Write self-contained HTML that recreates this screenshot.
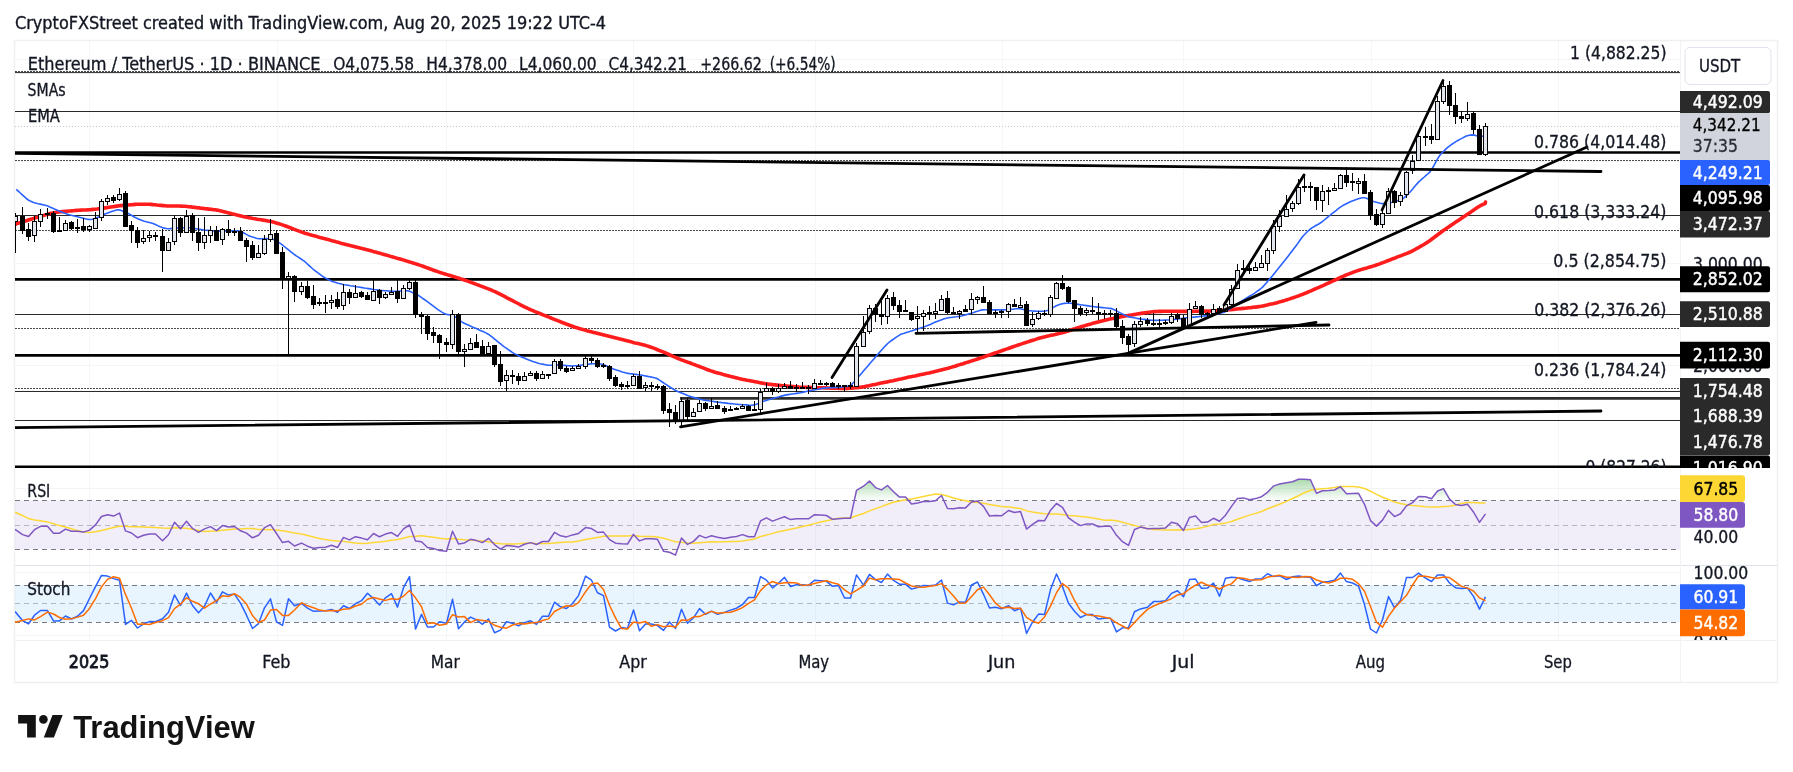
<!DOCTYPE html><html><head><meta charset="utf-8"><title>ETH/USDT chart</title><style>html,body{margin:0;padding:0;background:#fff;width:1793px;height:772px;overflow:hidden;position:relative}</style></head><body><svg width="1793" height="772" viewBox="0 0 1793 772" style="position:absolute;left:0;top:0;will-change:transform">
<defs>
<clipPath id="cm"><rect x="15" y="41" width="1665" height="427"/></clipPath>
<clipPath id="cr"><rect x="15" y="468" width="1665" height="97"/></clipPath>
<clipPath id="cs"><rect x="15" y="566" width="1665" height="74"/></clipPath>
<clipPath id="cax"><rect x="1680" y="41" width="97" height="427"/></clipPath>
<clipPath id="cst"><rect x="1680" y="566" width="97" height="74"/></clipPath>
<linearGradient id="gOB" gradientUnits="userSpaceOnUse" x1="0" y1="464" x2="0" y2="500.5"><stop offset="0" stop-color="#4caf50" stop-opacity="0.8"/><stop offset="1" stop-color="#4caf50" stop-opacity="0"/></linearGradient>
<linearGradient id="gOS" gradientUnits="userSpaceOnUse" x1="0" y1="549.1" x2="0" y2="585.5"><stop offset="0" stop-color="#f23645" stop-opacity="0"/><stop offset="1" stop-color="#f23645" stop-opacity="0.6"/></linearGradient>
</defs>
<text x="15" y="29" font-family="'DejaVu Sans Condensed','DejaVu Sans',sans-serif" font-size="17.4" fill="#131722" textLength="591" lengthAdjust="spacingAndGlyphs" stroke="#131722" stroke-width="0.35">CryptoFXStreet created with TradingView.com, Aug 20, 2025 19:22 UTC-4</text>
<rect x="14.5" y="40.5" width="1763" height="642" fill="#fff" stroke="#f0f0f0" stroke-width="1.5"/>
<line x1="89.5" y1="41" x2="89.5" y2="640" stroke="#f6f6f8" stroke-width="1"/>
<line x1="277.5" y1="41" x2="277.5" y2="640" stroke="#f6f6f8" stroke-width="1"/>
<line x1="446.5" y1="41" x2="446.5" y2="640" stroke="#f6f6f8" stroke-width="1"/>
<line x1="633.5" y1="41" x2="633.5" y2="640" stroke="#f6f6f8" stroke-width="1"/>
<line x1="815.5" y1="41" x2="815.5" y2="640" stroke="#f6f6f8" stroke-width="1"/>
<line x1="1002.5" y1="41" x2="1002.5" y2="640" stroke="#f6f6f8" stroke-width="1"/>
<line x1="1183.5" y1="41" x2="1183.5" y2="640" stroke="#f6f6f8" stroke-width="1"/>
<line x1="1371.5" y1="41" x2="1371.5" y2="640" stroke="#f6f6f8" stroke-width="1"/>
<line x1="1558.5" y1="41" x2="1558.5" y2="640" stroke="#f6f6f8" stroke-width="1"/>
<line x1="15" y1="59.5" x2="1680" y2="59.5" stroke="#f5f5f7" stroke-width="1"/>
<line x1="15" y1="161.5" x2="1680" y2="161.5" stroke="#f5f5f7" stroke-width="1"/>
<line x1="15" y1="263.5" x2="1680" y2="263.5" stroke="#f5f5f7" stroke-width="1"/>
<line x1="15" y1="365.5" x2="1680" y2="365.5" stroke="#f5f5f7" stroke-width="1"/>
<line x1="15" y1="565.5" x2="1777" y2="565.5" stroke="#e0e3eb" stroke-width="1"/>
<line x1="15" y1="640.5" x2="1777" y2="640.5" stroke="#f0f0f0" stroke-width="1"/>
<line x1="1680.5" y1="41" x2="1680.5" y2="682" stroke="#f3f3f3" stroke-width="1"/>
<line x1="15" y1="488.5" x2="1680" y2="488.5" stroke="#f3f4f7" stroke-width="1"/>
<line x1="15" y1="635.5" x2="1680" y2="635.5" stroke="#f3f4f7" stroke-width="1"/>
<line x1="15" y1="572.5" x2="1680" y2="572.5" stroke="#f3f4f7" stroke-width="1"/>
<g clip-path="url(#cm)">
<line x1="15" y1="71.5" x2="1680" y2="71.5" stroke="#4a4a4a" stroke-width="1" stroke-dasharray="2 1"/>
<line x1="15" y1="160.5" x2="1680" y2="160.5" stroke="#4a4a4a" stroke-width="1" stroke-dasharray="2 1"/>
<line x1="15" y1="230.5" x2="1680" y2="230.5" stroke="#4a4a4a" stroke-width="1" stroke-dasharray="2 1"/>
<line x1="15" y1="279.5" x2="1680" y2="279.5" stroke="#4a4a4a" stroke-width="1" stroke-dasharray="2 1"/>
<line x1="15" y1="328.5" x2="1680" y2="328.5" stroke="#4a4a4a" stroke-width="1" stroke-dasharray="2 1"/>
<line x1="15" y1="388.5" x2="1680" y2="388.5" stroke="#4a4a4a" stroke-width="1" stroke-dasharray="2 1"/>
<line x1="15" y1="72.6" x2="1680" y2="72.6" stroke="#2a2a2a" stroke-width="1"/>
<line x1="15" y1="126.5" x2="1680" y2="126.5" stroke="#c5c8d0" stroke-width="1" stroke-dasharray="1 2"/>
<line x1="15" y1="111.5" x2="1680" y2="111.5" stroke="#2a2a2a" stroke-width="1.1"/>
<line x1="15" y1="215.5" x2="1680" y2="215.5" stroke="#2a2a2a" stroke-width="1.1"/>
<line x1="15" y1="314.5" x2="1680" y2="314.5" stroke="#2a2a2a" stroke-width="1.1"/>
<line x1="15" y1="391.5" x2="1680" y2="391.5" stroke="#2a2a2a" stroke-width="1.1"/>
<line x1="15" y1="420.5" x2="1680" y2="420.5" stroke="#2a2a2a" stroke-width="1.1"/>
<line x1="15" y1="152.5" x2="1680" y2="152.5" stroke="#000" stroke-width="2.7"/>
<line x1="15" y1="279.3" x2="1680" y2="279.3" stroke="#000" stroke-width="2.7"/>
<line x1="15" y1="355.3" x2="1680" y2="355.3" stroke="#000" stroke-width="2.7"/>
<line x1="15" y1="466.8" x2="1680" y2="466.8" stroke="#000" stroke-width="2.7"/>
<line x1="680" y1="398.4" x2="1680" y2="398.4" stroke="#2e2e2e" stroke-width="2.6"/>
<path d="M15.0,224.6 L17.0,223.4 L19.0,222.9 L21.0,222.4 L23.0,221.8 L25.0,221.1 L27.0,220.5 L29.0,219.8 L31.0,219.2 L33.0,218.6 L35.0,218.0 L37.0,217.4 L39.0,216.8 L41.0,216.2 L43.0,215.6 L45.0,215.0 L47.0,214.4 L49.0,213.8 L51.0,213.3 L53.0,212.9 L55.0,212.5 L57.0,212.2 L59.0,212.0 L61.0,211.8 L63.0,211.6 L65.0,211.4 L67.0,211.2 L69.0,211.0 L71.0,210.9 L73.0,210.7 L75.0,210.5 L77.0,210.4 L79.0,210.3 L81.0,210.1 L83.0,210.0 L85.0,210.0 L87.0,209.9 L89.0,209.7 L91.0,209.6 L93.0,209.4 L95.0,209.2 L97.0,209.0 L99.0,208.7 L101.0,208.5 L103.0,208.2 L105.0,207.9 L107.0,207.6 L109.0,207.3 L111.0,207.0 L113.0,206.7 L115.0,206.4 L117.0,206.1 L119.0,205.8 L121.0,205.6 L123.0,205.4 L125.0,205.2 L127.0,205.0 L129.0,204.9 L131.0,204.7 L133.0,204.6 L135.0,204.4 L137.0,204.3 L139.0,204.2 L141.0,204.2 L143.0,204.2 L145.0,204.2 L147.0,204.3 L149.0,204.3 L151.0,204.4 L153.0,204.6 L155.0,204.7 L157.0,205.0 L159.0,205.2 L161.0,205.4 L163.0,205.6 L165.0,205.8 L167.0,206.0 L169.0,206.0 L171.0,206.0 L173.0,206.0 L175.0,206.0 L177.0,206.0 L179.0,206.0 L181.0,206.1 L183.0,206.2 L185.0,206.3 L187.0,206.5 L189.0,206.7 L191.0,206.9 L193.0,207.2 L195.0,207.4 L197.0,207.7 L199.0,207.9 L201.0,208.2 L203.0,208.4 L205.0,208.7 L207.0,208.9 L209.0,209.1 L211.0,209.3 L213.0,209.6 L215.0,209.8 L217.0,210.1 L219.0,210.5 L221.0,210.9 L223.0,211.4 L225.0,211.9 L227.0,212.5 L229.0,213.0 L231.0,213.5 L233.0,214.1 L235.0,214.6 L237.0,215.1 L239.0,215.5 L241.0,216.0 L243.0,216.5 L245.0,216.9 L247.0,217.3 L249.0,217.7 L251.0,218.1 L253.0,218.5 L255.0,218.8 L257.0,219.2 L259.0,219.5 L261.0,219.8 L263.0,220.1 L265.0,220.4 L267.0,220.8 L269.0,221.2 L271.0,221.6 L273.0,222.1 L275.0,222.6 L277.0,223.2 L279.0,223.8 L281.0,224.4 L283.0,225.1 L285.0,225.8 L287.0,226.5 L289.0,227.3 L291.0,228.0 L293.0,228.8 L295.0,229.6 L297.0,230.4 L299.0,231.1 L301.0,231.9 L303.0,232.5 L305.0,233.2 L307.0,233.8 L309.0,234.4 L311.0,235.0 L313.0,235.6 L315.0,236.1 L317.0,236.6 L319.0,237.2 L321.0,237.7 L323.0,238.2 L325.0,238.7 L327.0,239.3 L329.0,239.8 L331.0,240.4 L333.0,240.9 L335.0,241.5 L337.0,242.1 L339.0,242.6 L341.0,243.2 L343.0,243.7 L345.0,244.2 L347.0,244.7 L349.0,245.2 L351.0,245.7 L353.0,246.2 L355.0,246.7 L357.0,247.3 L359.0,247.8 L361.0,248.3 L363.0,248.8 L365.0,249.3 L367.0,249.8 L369.0,250.3 L371.0,250.8 L373.0,251.4 L375.0,251.9 L377.0,252.5 L379.0,253.1 L381.0,253.6 L383.0,254.2 L385.0,254.8 L387.0,255.3 L389.0,255.9 L391.0,256.5 L393.0,257.0 L395.0,257.6 L397.0,258.2 L399.0,258.7 L401.0,259.3 L403.0,259.9 L405.0,260.5 L407.0,261.1 L409.0,261.8 L411.0,262.4 L413.0,263.0 L415.0,263.6 L417.0,264.2 L419.0,264.9 L421.0,265.6 L423.0,266.3 L425.0,267.0 L427.0,267.8 L429.0,268.5 L431.0,269.2 L433.0,270.0 L435.0,270.7 L437.0,271.4 L439.0,272.1 L441.0,272.8 L443.0,273.4 L445.0,274.0 L447.0,274.6 L449.0,275.2 L451.0,275.8 L453.0,276.4 L455.0,277.0 L457.0,277.6 L459.0,278.2 L461.0,278.9 L463.0,279.5 L465.0,280.2 L467.0,280.9 L469.0,281.6 L471.0,282.4 L473.0,283.1 L475.0,283.8 L477.0,284.6 L479.0,285.3 L481.0,286.1 L483.0,286.8 L485.0,287.6 L487.0,288.4 L489.0,289.1 L491.0,289.9 L493.0,290.8 L495.0,291.6 L497.0,292.6 L499.0,293.6 L501.0,294.6 L503.0,295.7 L505.0,296.7 L507.0,297.8 L509.0,298.8 L511.0,299.9 L513.0,300.9 L515.0,302.0 L517.0,303.0 L519.0,304.0 L521.0,305.1 L523.0,306.1 L525.0,307.1 L527.0,308.0 L529.0,309.0 L531.0,309.9 L533.0,310.7 L535.0,311.6 L537.0,312.4 L539.0,313.2 L541.0,314.0 L543.0,314.8 L545.0,315.6 L547.0,316.4 L549.0,317.2 L551.0,318.0 L553.0,318.8 L555.0,319.6 L557.0,320.4 L559.0,321.2 L561.0,322.0 L563.0,322.8 L565.0,323.5 L567.0,324.3 L569.0,325.0 L571.0,325.8 L573.0,326.5 L575.0,327.2 L577.0,327.8 L579.0,328.5 L581.0,329.0 L583.0,329.6 L585.0,330.1 L587.0,330.7 L589.0,331.2 L591.0,331.7 L593.0,332.3 L595.0,332.8 L597.0,333.3 L599.0,333.8 L601.0,334.3 L603.0,334.8 L605.0,335.3 L607.0,335.8 L609.0,336.3 L611.0,336.8 L613.0,337.3 L615.0,337.8 L617.0,338.3 L619.0,338.8 L621.0,339.3 L623.0,339.8 L625.0,340.3 L627.0,340.8 L629.0,341.3 L631.0,341.8 L633.0,342.4 L635.0,342.9 L637.0,343.3 L639.0,343.8 L641.0,344.3 L643.0,344.8 L645.0,345.3 L647.0,345.9 L649.0,346.5 L651.0,347.2 L653.0,347.9 L655.0,348.7 L657.0,349.5 L659.0,350.3 L661.0,351.1 L663.0,351.9 L665.0,352.7 L667.0,353.6 L669.0,354.5 L671.0,355.4 L673.0,356.3 L675.0,357.1 L677.0,358.0 L679.0,358.9 L681.0,359.7 L683.0,360.4 L685.0,361.2 L687.0,361.9 L689.0,362.6 L691.0,363.3 L693.0,364.1 L695.0,364.8 L697.0,365.6 L699.0,366.3 L701.0,367.1 L703.0,367.9 L705.0,368.7 L707.0,369.5 L709.0,370.2 L711.0,370.9 L713.0,371.5 L715.0,372.2 L717.0,372.7 L719.0,373.3 L721.0,373.8 L723.0,374.4 L725.0,374.9 L727.0,375.5 L729.0,376.0 L731.0,376.6 L733.0,377.1 L735.0,377.6 L737.0,378.1 L739.0,378.6 L741.0,379.0 L743.0,379.4 L745.0,379.8 L747.0,380.2 L749.0,380.5 L751.0,380.9 L753.0,381.3 L755.0,381.7 L757.0,382.1 L759.0,382.5 L761.0,382.9 L763.0,383.2 L765.0,383.6 L767.0,383.9 L769.0,384.2 L771.0,384.4 L773.0,384.7 L775.0,384.9 L777.0,385.1 L779.0,385.3 L781.0,385.5 L783.0,385.7 L785.0,385.9 L787.0,386.1 L789.0,386.3 L791.0,386.4 L793.0,386.6 L795.0,386.8 L797.0,386.9 L799.0,387.1 L801.0,387.2 L803.0,387.3 L805.0,387.3 L807.0,387.4 L809.0,387.4 L811.0,387.5 L813.0,387.6 L815.0,387.6 L817.0,387.7 L819.0,387.7 L821.0,387.8 L823.0,387.8 L825.0,387.9 L827.0,388.0 L829.0,388.0 L831.0,388.1 L833.0,388.2 L835.0,388.2 L837.0,388.3 L839.0,388.4 L841.0,388.4 L843.0,388.4 L845.0,388.4 L847.0,388.4 L849.0,388.3 L851.0,388.2 L853.0,388.0 L855.0,387.8 L857.0,387.6 L859.0,387.4 L861.0,387.2 L863.0,386.9 L865.0,386.5 L867.0,386.1 L869.0,385.7 L871.0,385.2 L873.0,384.8 L875.0,384.4 L877.0,384.0 L879.0,383.5 L881.0,383.1 L883.0,382.7 L885.0,382.3 L887.0,381.9 L889.0,381.5 L891.0,381.1 L893.0,380.7 L895.0,380.2 L897.0,379.8 L899.0,379.3 L901.0,378.9 L903.0,378.4 L905.0,378.0 L907.0,377.5 L909.0,377.1 L911.0,376.7 L913.0,376.3 L915.0,375.9 L917.0,375.4 L919.0,375.0 L921.0,374.6 L923.0,374.2 L925.0,373.8 L927.0,373.3 L929.0,372.9 L931.0,372.4 L933.0,372.0 L935.0,371.5 L937.0,371.1 L939.0,370.6 L941.0,370.1 L943.0,369.6 L945.0,369.1 L947.0,368.6 L949.0,368.0 L951.0,367.4 L953.0,366.8 L955.0,366.2 L957.0,365.5 L959.0,364.9 L961.0,364.3 L963.0,363.7 L965.0,363.0 L967.0,362.4 L969.0,361.8 L971.0,361.1 L973.0,360.5 L975.0,359.9 L977.0,359.2 L979.0,358.5 L981.0,357.8 L983.0,357.2 L985.0,356.5 L987.0,355.8 L989.0,355.1 L991.0,354.4 L993.0,353.7 L995.0,353.0 L997.0,352.4 L999.0,351.7 L1001.0,351.0 L1003.0,350.3 L1005.0,349.6 L1007.0,348.9 L1009.0,348.2 L1011.0,347.5 L1013.0,346.8 L1015.0,346.1 L1017.0,345.4 L1019.0,344.7 L1021.0,344.1 L1023.0,343.4 L1025.0,342.8 L1027.0,342.1 L1029.0,341.5 L1031.0,340.8 L1033.0,340.2 L1035.0,339.6 L1037.0,338.9 L1039.0,338.3 L1041.0,337.7 L1043.0,337.2 L1045.0,336.7 L1047.0,336.2 L1049.0,335.8 L1051.0,335.3 L1053.0,334.9 L1055.0,334.5 L1057.0,334.0 L1059.0,333.6 L1061.0,333.1 L1063.0,332.6 L1065.0,332.0 L1067.0,331.4 L1069.0,330.7 L1071.0,330.0 L1073.0,329.3 L1075.0,328.7 L1077.0,328.0 L1079.0,327.4 L1081.0,326.8 L1083.0,326.2 L1085.0,325.6 L1087.0,325.0 L1089.0,324.4 L1091.0,323.9 L1093.0,323.3 L1095.0,322.8 L1097.0,322.2 L1099.0,321.7 L1101.0,321.2 L1103.0,320.7 L1105.0,320.2 L1107.0,319.7 L1109.0,319.2 L1111.0,318.8 L1113.0,318.4 L1115.0,317.9 L1117.0,317.5 L1119.0,317.2 L1121.0,316.8 L1123.0,316.5 L1125.0,316.1 L1127.0,315.7 L1129.0,315.4 L1131.0,315.1 L1133.0,314.7 L1135.0,314.4 L1137.0,314.0 L1139.0,313.7 L1141.0,313.4 L1143.0,313.1 L1145.0,312.8 L1147.0,312.5 L1149.0,312.2 L1151.0,312.0 L1153.0,311.8 L1155.0,311.6 L1157.0,311.5 L1159.0,311.4 L1161.0,311.4 L1163.0,311.3 L1165.0,311.3 L1167.0,311.3 L1169.0,311.3 L1171.0,311.3 L1173.0,311.3 L1175.0,311.3 L1177.0,311.3 L1179.0,311.4 L1181.0,311.4 L1183.0,311.4 L1185.0,311.4 L1187.0,311.4 L1189.0,311.4 L1191.0,311.4 L1193.0,311.4 L1195.0,311.3 L1197.0,311.3 L1199.0,311.2 L1201.0,311.2 L1203.0,311.2 L1205.0,311.1 L1207.0,311.1 L1209.0,311.1 L1211.0,311.0 L1213.0,310.9 L1215.0,310.8 L1217.0,310.7 L1219.0,310.6 L1221.0,310.4 L1223.0,310.3 L1225.0,310.1 L1227.0,309.9 L1229.0,309.8 L1231.0,309.6 L1233.0,309.4 L1235.0,309.2 L1237.0,309.0 L1239.0,308.8 L1241.0,308.6 L1243.0,308.4 L1245.0,308.2 L1247.0,308.0 L1249.0,307.8 L1251.0,307.6 L1253.0,307.3 L1255.0,307.1 L1257.0,306.9 L1259.0,306.6 L1261.0,306.3 L1263.0,305.9 L1265.0,305.5 L1267.0,305.1 L1269.0,304.6 L1271.0,304.1 L1273.0,303.7 L1275.0,303.2 L1277.0,302.7 L1279.0,302.1 L1281.0,301.6 L1283.0,301.0 L1285.0,300.4 L1287.0,299.7 L1289.0,299.1 L1291.0,298.4 L1293.0,297.8 L1295.0,297.1 L1297.0,296.4 L1299.0,295.7 L1301.0,294.9 L1303.0,294.2 L1305.0,293.3 L1307.0,292.5 L1309.0,291.6 L1311.0,290.8 L1313.0,289.9 L1315.0,289.0 L1317.0,288.2 L1319.0,287.3 L1321.0,286.4 L1323.0,285.6 L1325.0,284.7 L1327.0,283.7 L1329.0,282.8 L1331.0,281.9 L1333.0,280.9 L1335.0,280.0 L1337.0,279.1 L1339.0,278.1 L1341.0,277.2 L1343.0,276.4 L1345.0,275.5 L1347.0,274.7 L1349.0,273.9 L1351.0,273.1 L1353.0,272.3 L1355.0,271.6 L1357.0,270.9 L1359.0,270.2 L1361.0,269.6 L1363.0,269.0 L1365.0,268.4 L1367.0,267.9 L1369.0,267.3 L1371.0,266.7 L1373.0,266.1 L1375.0,265.5 L1377.0,264.8 L1379.0,264.1 L1381.0,263.3 L1383.0,262.6 L1385.0,261.8 L1387.0,261.0 L1389.0,260.3 L1391.0,259.5 L1393.0,258.7 L1395.0,258.0 L1397.0,257.2 L1399.0,256.4 L1401.0,255.7 L1403.0,254.9 L1405.0,254.1 L1407.0,253.3 L1409.0,252.5 L1411.0,251.6 L1413.0,250.6 L1415.0,249.5 L1417.0,248.4 L1419.0,247.3 L1421.0,246.1 L1423.0,245.0 L1425.0,243.8 L1427.0,242.5 L1429.0,241.2 L1431.0,239.8 L1433.0,238.3 L1435.0,236.8 L1437.0,235.3 L1439.0,233.8 L1441.0,232.3 L1443.0,230.8 L1445.0,229.4 L1447.0,228.0 L1449.0,226.7 L1451.0,225.3 L1453.0,224.0 L1455.0,222.6 L1457.0,221.3 L1459.0,220.0 L1461.0,218.6 L1463.0,217.3 L1465.0,215.9 L1467.0,214.6 L1469.0,213.2 L1471.0,211.9 L1473.0,210.5 L1475.0,209.1 L1477.0,207.8 L1479.0,206.5 L1481.0,205.4 L1483.0,204.4 L1485.0,203.6 L1485.5,202.0" fill="none" stroke="#ff1c1c" stroke-width="3.6" stroke-linejoin="round" stroke-linecap="round"/>
<path d="M16.3,189.3 L18.3,191.2 L20.3,193.0 L22.3,194.8 L24.3,196.6 L26.3,198.5 L28.3,200.0 L30.3,201.1 L32.3,201.9 L34.3,202.7 L36.3,203.2 L38.3,203.7 L40.3,204.1 L42.3,204.6 L44.3,205.0 L46.3,205.6 L48.3,206.3 L50.3,207.2 L52.3,208.1 L54.3,209.0 L56.3,209.8 L58.3,210.7 L60.3,211.5 L62.3,212.2 L64.3,213.0 L66.3,213.7 L68.3,214.4 L70.3,215.0 L72.3,215.5 L74.3,216.0 L76.3,216.5 L78.3,217.0 L80.3,217.5 L82.3,218.0 L84.3,218.5 L86.3,219.0 L88.3,219.4 L90.3,219.5 L92.3,219.3 L94.3,218.8 L96.3,218.0 L98.3,217.0 L100.3,216.1 L102.3,215.1 L104.3,214.2 L106.3,213.4 L108.3,212.7 L110.3,212.0 L112.3,211.3 L114.3,210.7 L116.3,210.0 L118.3,209.7 L120.3,210.1 L122.3,210.9 L124.3,211.7 L126.3,212.5 L128.3,213.5 L130.3,214.6 L132.3,215.8 L134.3,217.0 L136.3,218.0 L138.3,218.9 L140.3,219.7 L142.3,220.5 L144.3,221.2 L146.3,221.8 L148.3,222.3 L150.3,222.8 L152.3,223.3 L154.3,224.0 L156.3,224.9 L158.3,225.9 L160.3,226.8 L162.3,227.6 L164.3,228.1 L166.3,228.5 L168.3,228.7 L170.3,228.6 L172.3,228.4 L174.3,228.2 L176.3,228.1 L178.3,228.0 L180.3,227.9 L182.3,227.8 L184.3,227.7 L186.3,227.7 L188.3,227.8 L190.3,228.0 L192.3,228.3 L194.3,228.5 L196.3,228.8 L198.3,229.1 L200.3,229.4 L202.3,229.7 L204.3,230.0 L206.3,230.2 L208.3,230.4 L210.3,230.6 L212.3,230.7 L214.3,230.9 L216.3,231.0 L218.3,231.1 L220.3,231.1 L222.3,231.1 L224.3,231.0 L226.3,231.0 L228.3,230.9 L230.3,230.9 L232.3,230.9 L234.3,230.9 L236.3,231.0 L238.3,231.1 L240.3,231.4 L242.3,232.2 L244.3,233.3 L246.3,234.4 L248.3,235.4 L250.3,236.2 L252.3,236.9 L254.3,237.6 L256.3,238.2 L258.3,238.6 L260.3,238.7 L262.3,238.7 L264.3,238.6 L266.3,238.6 L268.3,238.7 L270.3,238.8 L272.3,239.1 L274.3,239.8 L276.3,240.9 L278.3,242.1 L280.3,243.4 L282.3,244.9 L284.3,246.5 L286.3,248.1 L288.3,249.7 L290.3,251.3 L292.3,252.9 L294.3,254.5 L296.3,255.9 L298.3,257.2 L300.3,258.5 L302.3,259.8 L304.3,261.2 L306.3,263.0 L308.3,264.8 L310.3,266.7 L312.3,268.5 L314.3,270.2 L316.3,271.7 L318.3,273.2 L320.3,274.7 L322.3,276.2 L324.3,277.5 L326.3,278.5 L328.3,279.5 L330.3,280.5 L332.3,281.4 L334.3,282.1 L336.3,282.7 L338.3,283.3 L340.3,283.8 L342.3,284.3 L344.3,284.7 L346.3,285.0 L348.3,285.3 L350.3,285.7 L352.3,286.0 L354.3,286.3 L356.3,286.7 L358.3,287.0 L360.3,287.3 L362.3,287.6 L364.3,288.0 L366.3,288.3 L368.3,288.6 L370.3,288.9 L372.3,289.2 L374.3,289.5 L376.3,289.7 L378.3,290.0 L380.3,290.3 L382.3,290.5 L384.3,290.7 L386.3,290.8 L388.3,291.0 L390.3,291.1 L392.3,291.3 L394.3,291.3 L396.3,291.3 L398.3,291.2 L400.3,291.0 L402.3,290.9 L404.3,290.8 L406.3,290.7 L408.3,290.9 L410.3,291.6 L412.3,292.4 L414.3,293.2 L416.3,294.2 L418.3,295.3 L420.3,296.7 L422.3,298.1 L424.3,299.5 L426.3,300.9 L428.3,302.4 L430.3,303.9 L432.3,305.4 L434.3,306.9 L436.3,308.4 L438.3,309.8 L440.3,311.1 L442.3,312.4 L444.3,313.6 L446.3,314.3 L448.3,314.6 L450.3,314.8 L452.3,315.2 L454.3,316.1 L456.3,317.6 L458.3,319.2 L460.3,320.8 L462.3,322.2 L464.3,323.3 L466.3,324.2 L468.3,325.1 L470.3,326.0 L472.3,326.9 L474.3,327.8 L476.3,328.6 L478.3,329.5 L480.3,330.4 L482.3,331.2 L484.3,332.1 L486.3,333.1 L488.3,334.2 L490.3,335.7 L492.3,337.2 L494.3,338.8 L496.3,340.4 L498.3,342.1 L500.3,343.7 L502.3,345.3 L504.3,346.8 L506.3,348.2 L508.3,349.6 L510.3,351.0 L512.3,352.4 L514.3,353.6 L516.3,354.6 L518.3,355.5 L520.3,356.4 L522.3,357.2 L524.3,358.1 L526.3,358.9 L528.3,359.7 L530.3,360.4 L532.3,361.2 L534.3,361.9 L536.3,362.6 L538.3,363.2 L540.3,363.7 L542.3,364.1 L544.3,364.5 L546.3,364.9 L548.3,365.2 L550.3,365.2 L552.3,365.2 L554.3,365.1 L556.3,365.1 L558.3,365.1 L560.3,365.1 L562.3,365.2 L564.3,365.4 L566.3,365.6 L568.3,365.8 L570.3,365.9 L572.3,366.0 L574.3,365.8 L576.3,365.7 L578.3,365.5 L580.3,365.3 L582.3,365.0 L584.3,364.8 L586.3,364.5 L588.3,364.2 L590.3,363.9 L592.3,363.8 L594.3,363.8 L596.3,363.8 L598.3,363.9 L600.3,364.0 L602.3,364.2 L604.3,364.9 L606.3,365.8 L608.3,366.8 L610.3,367.7 L612.3,368.5 L614.3,369.3 L616.3,369.9 L618.3,370.6 L620.3,371.2 L622.3,371.9 L624.3,372.5 L626.3,373.1 L628.3,373.4 L630.3,373.7 L632.3,373.9 L634.3,374.2 L636.3,374.4 L638.3,374.7 L640.3,375.0 L642.3,375.3 L644.3,375.7 L646.3,376.1 L648.3,376.5 L650.3,376.9 L652.3,377.3 L654.3,377.7 L656.3,378.3 L658.3,379.3 L660.3,380.6 L662.3,382.0 L664.3,383.4 L666.3,384.7 L668.3,386.0 L670.3,387.3 L672.3,388.5 L674.3,389.8 L676.3,390.8 L678.3,391.7 L680.3,392.5 L682.3,393.3 L684.3,394.1 L686.3,394.9 L688.3,395.7 L690.3,396.4 L692.3,397.1 L694.3,397.6 L696.3,398.1 L698.3,398.7 L700.3,399.2 L702.3,399.7 L704.3,400.1 L706.3,400.4 L708.3,400.7 L710.3,401.0 L712.3,401.3 L714.3,401.6 L716.3,401.9 L718.3,402.2 L720.3,402.4 L722.3,402.7 L724.3,402.9 L726.3,403.1 L728.3,403.4 L730.3,403.6 L732.3,403.8 L734.3,404.0 L736.3,404.2 L738.3,404.4 L740.3,404.5 L742.3,404.7 L744.3,404.8 L746.3,404.9 L748.3,405.1 L750.3,405.2 L752.3,405.2 L754.3,404.9 L756.3,404.2 L758.3,403.4 L760.3,402.5 L762.3,401.8 L764.3,401.1 L766.3,400.4 L768.3,399.8 L770.3,399.2 L772.3,398.6 L774.3,398.0 L776.3,397.5 L778.3,397.0 L780.3,396.4 L782.3,395.9 L784.3,395.4 L786.3,394.9 L788.3,394.6 L790.3,394.3 L792.3,394.0 L794.3,393.7 L796.3,393.4 L798.3,393.1 L800.3,392.8 L802.3,392.4 L804.3,391.9 L806.3,391.5 L808.3,391.0 L810.3,390.6 L812.3,390.2 L814.3,389.9 L816.3,389.5 L818.3,389.2 L820.3,388.8 L822.3,388.4 L824.3,388.1 L826.3,387.9 L828.3,387.8 L830.3,387.7 L832.3,387.6 L834.3,387.5 L836.3,387.4 L838.3,387.3 L840.3,387.2 L842.3,387.0 L844.3,386.7 L846.3,386.4 L848.3,386.1 L850.3,385.4 L852.3,383.8 L854.3,381.7 L856.3,379.4 L858.3,377.1 L860.3,374.8 L862.3,372.5 L864.3,370.1 L866.3,367.8 L868.3,365.4 L870.3,363.1 L872.3,360.8 L874.3,358.4 L876.3,356.1 L878.3,353.7 L880.3,351.4 L882.3,349.2 L884.3,347.0 L886.3,344.9 L888.3,343.0 L890.3,341.4 L892.3,340.0 L894.3,338.6 L896.3,337.2 L898.3,335.9 L900.3,334.6 L902.3,333.8 L904.3,333.2 L906.3,332.5 L908.3,331.9 L910.3,331.3 L912.3,330.7 L914.3,330.0 L916.3,329.4 L918.3,328.7 L920.3,328.1 L922.3,327.4 L924.3,326.8 L926.3,326.1 L928.3,325.2 L930.3,324.4 L932.3,323.5 L934.3,322.6 L936.3,321.7 L938.3,320.9 L940.3,320.2 L942.3,319.5 L944.3,318.7 L946.3,318.2 L948.3,317.8 L950.3,317.5 L952.3,317.3 L954.3,317.0 L956.3,316.8 L958.3,316.5 L960.3,316.2 L962.3,315.8 L964.3,315.2 L966.3,314.7 L968.3,314.1 L970.3,313.5 L972.3,312.9 L974.3,312.3 L976.3,311.6 L978.3,311.0 L980.3,310.3 L982.3,309.9 L984.3,309.7 L986.3,309.8 L988.3,309.8 L990.3,309.8 L992.3,309.9 L994.3,309.9 L996.3,309.9 L998.3,309.9 L1000.3,309.9 L1002.3,309.9 L1004.3,309.9 L1006.3,309.8 L1008.3,309.6 L1010.3,309.4 L1012.3,309.2 L1014.3,309.0 L1016.3,308.8 L1018.3,308.7 L1020.3,308.8 L1022.3,309.2 L1024.3,309.7 L1026.3,310.1 L1028.3,310.6 L1030.3,310.8 L1032.3,311.0 L1034.3,311.1 L1036.3,311.2 L1038.3,311.3 L1040.3,311.3 L1042.3,311.2 L1044.3,311.1 L1046.3,310.8 L1048.3,310.2 L1050.3,309.2 L1052.3,308.1 L1054.3,306.9 L1056.3,305.8 L1058.3,305.0 L1060.3,304.3 L1062.3,303.7 L1064.3,303.4 L1066.3,303.2 L1068.3,303.1 L1070.3,303.2 L1072.3,303.4 L1074.3,303.8 L1076.3,304.1 L1078.3,304.4 L1080.3,304.7 L1082.3,305.0 L1084.3,305.3 L1086.3,305.6 L1088.3,305.9 L1090.3,306.2 L1092.3,306.4 L1094.3,306.7 L1096.3,306.9 L1098.3,307.2 L1100.3,307.4 L1102.3,307.6 L1104.3,307.8 L1106.3,308.0 L1108.3,308.2 L1110.3,308.4 L1112.3,308.9 L1114.3,309.7 L1116.3,310.8 L1118.3,311.9 L1120.3,312.9 L1122.3,313.9 L1124.3,314.9 L1126.3,315.8 L1128.3,316.6 L1130.3,317.1 L1132.3,317.4 L1134.3,317.8 L1136.3,318.2 L1138.3,318.6 L1140.3,318.9 L1142.3,319.2 L1144.3,319.4 L1146.3,319.6 L1148.3,319.9 L1150.3,320.1 L1152.3,320.3 L1154.3,320.4 L1156.3,320.4 L1158.3,320.3 L1160.3,320.3 L1162.3,320.2 L1164.3,320.1 L1166.3,320.0 L1168.3,320.0 L1170.3,319.8 L1172.3,319.6 L1174.3,319.4 L1176.3,319.1 L1178.3,318.9 L1180.3,318.6 L1182.3,318.4 L1184.3,318.1 L1186.3,317.9 L1188.3,317.7 L1190.3,317.5 L1192.3,317.3 L1194.3,317.1 L1196.3,316.9 L1198.3,316.7 L1200.3,316.4 L1202.3,316.2 L1204.3,315.9 L1206.3,315.6 L1208.3,315.3 L1210.3,315.0 L1212.3,314.7 L1214.3,314.4 L1216.3,314.0 L1218.3,313.6 L1220.3,313.2 L1222.3,312.8 L1224.3,312.2 L1226.3,311.1 L1228.3,309.8 L1230.3,308.5 L1232.3,307.2 L1234.3,305.8 L1236.3,304.5 L1238.3,303.2 L1240.3,301.9 L1242.3,300.6 L1244.3,299.4 L1246.3,298.2 L1248.3,297.0 L1250.3,295.8 L1252.3,294.6 L1254.3,293.3 L1256.3,291.9 L1258.3,290.5 L1260.3,289.0 L1262.3,287.4 L1264.3,285.2 L1266.3,282.9 L1268.3,280.6 L1270.3,278.3 L1272.3,275.9 L1274.3,273.4 L1276.3,270.9 L1278.3,268.5 L1280.3,266.0 L1282.3,263.5 L1284.3,261.0 L1286.3,258.4 L1288.3,255.9 L1290.3,253.3 L1292.3,250.7 L1294.3,248.1 L1296.3,245.4 L1298.3,242.6 L1300.3,239.8 L1302.3,237.1 L1304.3,234.8 L1306.3,232.8 L1308.3,230.8 L1310.3,229.0 L1312.3,227.6 L1314.3,226.5 L1316.3,225.3 L1318.3,224.2 L1320.3,223.0 L1322.3,221.6 L1324.3,220.0 L1326.3,218.3 L1328.3,216.6 L1330.3,215.0 L1332.3,213.4 L1334.3,211.8 L1336.3,210.3 L1338.3,208.7 L1340.3,207.2 L1342.3,205.9 L1344.3,204.8 L1346.3,203.8 L1348.3,202.8 L1350.3,201.8 L1352.3,200.9 L1354.3,200.2 L1356.3,199.5 L1358.3,198.8 L1360.3,198.2 L1362.3,197.8 L1364.3,197.8 L1366.3,198.2 L1368.3,199.0 L1370.3,200.0 L1372.3,201.0 L1374.3,201.8 L1376.3,202.3 L1378.3,202.8 L1380.3,203.3 L1382.3,203.6 L1384.3,203.6 L1386.3,203.3 L1388.3,202.9 L1390.3,202.6 L1392.3,202.2 L1394.3,201.6 L1396.3,201.1 L1398.3,200.5 L1400.3,199.9 L1402.3,199.1 L1404.3,197.6 L1406.3,195.7 L1408.3,193.8 L1410.3,191.7 L1412.3,189.4 L1414.3,187.0 L1416.3,184.6 L1418.3,182.4 L1420.3,180.5 L1422.3,178.7 L1424.3,177.0 L1426.3,175.2 L1428.3,173.5 L1430.3,171.4 L1432.3,168.4 L1434.3,164.8 L1436.3,161.1 L1438.3,157.6 L1440.3,154.8 L1442.3,152.5 L1444.3,150.6 L1446.3,148.6 L1448.3,146.8 L1450.3,145.3 L1452.3,144.0 L1454.3,142.7 L1456.3,141.4 L1458.3,140.2 L1460.3,139.1 L1462.3,138.1 L1464.3,137.0 L1466.3,136.1 L1468.3,135.5 L1470.3,135.1 L1472.3,134.9 L1474.3,135.1 L1476.3,135.8 L1478.3,136.4 L1480.3,136.4 L1482.3,136.2 L1484.3,136.0 L1486.0,135.8" fill="none" stroke="#2962ff" stroke-width="1.6" stroke-linejoin="round"/>
<g shape-rendering="crispEdges">
<rect x="15" y="213" width="1" height="40" fill="#000"/>
<rect x="13" y="216" width="5" height="6" fill="#000"/>
<rect x="14" y="217" width="3" height="4" fill="#e4e6ee"/>
<rect x="22" y="207" width="1" height="27" fill="#000"/>
<rect x="20" y="216" width="5" height="15" fill="#000"/>
<rect x="28" y="223" width="1" height="18" fill="#000"/>
<rect x="26" y="229" width="5" height="8" fill="#000"/>
<rect x="34" y="216" width="1" height="26" fill="#000"/>
<rect x="32" y="221" width="5" height="15" fill="#000"/>
<rect x="33" y="222" width="3" height="13" fill="#e4e6ee"/>
<rect x="40" y="209" width="1" height="18" fill="#000"/>
<rect x="38" y="214" width="5" height="8" fill="#000"/>
<rect x="39" y="215" width="3" height="6" fill="#e4e6ee"/>
<rect x="47" y="208" width="1" height="11" fill="#000"/>
<rect x="45" y="213" width="5" height="1.6" fill="#000"/>
<rect x="53" y="211" width="1" height="22" fill="#000"/>
<rect x="51" y="213" width="5" height="19" fill="#000"/>
<rect x="59" y="217" width="1" height="15" fill="#000"/>
<rect x="57" y="230" width="5" height="1.6" fill="#000"/>
<rect x="65" y="220" width="1" height="11" fill="#000"/>
<rect x="63" y="223" width="5" height="8" fill="#000"/>
<rect x="64" y="224" width="3" height="6" fill="#e4e6ee"/>
<rect x="71" y="221" width="1" height="9" fill="#000"/>
<rect x="69" y="222" width="5" height="7" fill="#000"/>
<rect x="77" y="219" width="1" height="14" fill="#000"/>
<rect x="75" y="227" width="5" height="1.6" fill="#000"/>
<rect x="83" y="218" width="1" height="14" fill="#000"/>
<rect x="81" y="226" width="5" height="4" fill="#000"/>
<rect x="89" y="225" width="1" height="7" fill="#000"/>
<rect x="87" y="226" width="5" height="4" fill="#000"/>
<rect x="88" y="227" width="3" height="2" fill="#e4e6ee"/>
<rect x="95" y="212" width="1" height="16" fill="#000"/>
<rect x="93" y="218" width="5" height="11" fill="#000"/>
<rect x="94" y="219" width="3" height="9" fill="#e4e6ee"/>
<rect x="101" y="199" width="1" height="22" fill="#000"/>
<rect x="99" y="201" width="5" height="17" fill="#000"/>
<rect x="100" y="202" width="3" height="15" fill="#e4e6ee"/>
<rect x="107" y="195" width="1" height="10" fill="#000"/>
<rect x="105" y="198" width="5" height="4" fill="#000"/>
<rect x="106" y="199" width="3" height="2" fill="#e4e6ee"/>
<rect x="113" y="195" width="1" height="8" fill="#000"/>
<rect x="111" y="197" width="5" height="4" fill="#000"/>
<rect x="119" y="188" width="1" height="13" fill="#000"/>
<rect x="117" y="194" width="5" height="6" fill="#000"/>
<rect x="118" y="195" width="3" height="4" fill="#e4e6ee"/>
<rect x="125" y="191" width="1" height="36" fill="#000"/>
<rect x="123" y="193" width="5" height="34" fill="#000"/>
<rect x="131" y="221" width="1" height="22" fill="#000"/>
<rect x="129" y="225" width="5" height="6" fill="#000"/>
<rect x="137" y="227" width="1" height="21" fill="#000"/>
<rect x="135" y="230" width="5" height="13" fill="#000"/>
<rect x="143" y="230" width="1" height="14" fill="#000"/>
<rect x="141" y="238" width="5" height="4" fill="#000"/>
<rect x="142" y="239" width="3" height="2" fill="#e4e6ee"/>
<rect x="149" y="231" width="1" height="11" fill="#000"/>
<rect x="147" y="235" width="5" height="3" fill="#000"/>
<rect x="148" y="236" width="3" height="1" fill="#e4e6ee"/>
<rect x="155" y="232" width="1" height="9" fill="#000"/>
<rect x="153" y="235" width="5" height="1.6" fill="#000"/>
<rect x="162" y="229" width="1" height="43" fill="#000"/>
<rect x="160" y="236" width="5" height="15" fill="#000"/>
<rect x="168" y="238" width="1" height="13" fill="#000"/>
<rect x="166" y="242" width="5" height="9" fill="#000"/>
<rect x="167" y="243" width="3" height="7" fill="#e4e6ee"/>
<rect x="174" y="215" width="1" height="30" fill="#000"/>
<rect x="172" y="218" width="5" height="24" fill="#000"/>
<rect x="173" y="219" width="3" height="22" fill="#e4e6ee"/>
<rect x="180" y="217" width="1" height="20" fill="#000"/>
<rect x="178" y="218" width="5" height="15" fill="#000"/>
<rect x="186" y="210" width="1" height="22" fill="#000"/>
<rect x="184" y="216" width="5" height="17" fill="#000"/>
<rect x="185" y="217" width="3" height="15" fill="#e4e6ee"/>
<rect x="192" y="213" width="1" height="28" fill="#000"/>
<rect x="190" y="215" width="5" height="18" fill="#000"/>
<rect x="198" y="218" width="1" height="33" fill="#000"/>
<rect x="196" y="232" width="5" height="11" fill="#000"/>
<rect x="204" y="217" width="1" height="32" fill="#000"/>
<rect x="202" y="235" width="5" height="8" fill="#000"/>
<rect x="203" y="236" width="3" height="6" fill="#e4e6ee"/>
<rect x="210" y="226" width="1" height="17" fill="#000"/>
<rect x="208" y="230" width="5" height="6" fill="#000"/>
<rect x="209" y="231" width="3" height="4" fill="#e4e6ee"/>
<rect x="216" y="226" width="1" height="15" fill="#000"/>
<rect x="214" y="230" width="5" height="11" fill="#000"/>
<rect x="222" y="228" width="1" height="17" fill="#000"/>
<rect x="220" y="229" width="5" height="11" fill="#000"/>
<rect x="221" y="230" width="3" height="9" fill="#e4e6ee"/>
<rect x="228" y="220" width="1" height="16" fill="#000"/>
<rect x="226" y="229" width="5" height="4" fill="#000"/>
<rect x="234" y="228" width="1" height="8" fill="#000"/>
<rect x="232" y="231" width="5" height="1.6" fill="#000"/>
<rect x="240" y="227" width="1" height="14" fill="#000"/>
<rect x="238" y="231" width="5" height="10" fill="#000"/>
<rect x="246" y="238" width="1" height="24" fill="#000"/>
<rect x="244" y="240" width="5" height="7" fill="#000"/>
<rect x="252" y="241" width="1" height="19" fill="#000"/>
<rect x="250" y="245" width="5" height="13" fill="#000"/>
<rect x="258" y="245" width="1" height="13" fill="#000"/>
<rect x="256" y="253" width="5" height="5" fill="#000"/>
<rect x="257" y="254" width="3" height="3" fill="#e4e6ee"/>
<rect x="264" y="235" width="1" height="20" fill="#000"/>
<rect x="262" y="239" width="5" height="15" fill="#000"/>
<rect x="263" y="240" width="3" height="13" fill="#e4e6ee"/>
<rect x="270" y="219" width="1" height="23" fill="#000"/>
<rect x="268" y="234" width="5" height="6" fill="#000"/>
<rect x="269" y="235" width="3" height="4" fill="#e4e6ee"/>
<rect x="276" y="230" width="1" height="23" fill="#000"/>
<rect x="274" y="233" width="5" height="21" fill="#000"/>
<rect x="282" y="247" width="1" height="42" fill="#000"/>
<rect x="280" y="252" width="5" height="27" fill="#000"/>
<rect x="288" y="272" width="1" height="82" fill="#000"/>
<rect x="286" y="276" width="5" height="3" fill="#000"/>
<rect x="287" y="277" width="3" height="1" fill="#e4e6ee"/>
<rect x="294" y="275" width="1" height="27" fill="#000"/>
<rect x="292" y="276" width="5" height="16" fill="#000"/>
<rect x="301" y="282" width="1" height="13" fill="#000"/>
<rect x="299" y="286" width="5" height="6" fill="#000"/>
<rect x="300" y="287" width="3" height="4" fill="#e4e6ee"/>
<rect x="307" y="281" width="1" height="18" fill="#000"/>
<rect x="305" y="286" width="5" height="12" fill="#000"/>
<rect x="313" y="285" width="1" height="24" fill="#000"/>
<rect x="311" y="296" width="5" height="9" fill="#000"/>
<rect x="319" y="298" width="1" height="8" fill="#000"/>
<rect x="317" y="302" width="5" height="1.6" fill="#000"/>
<rect x="325" y="295" width="1" height="18" fill="#000"/>
<rect x="323" y="302" width="5" height="1.6" fill="#000"/>
<rect x="331" y="295" width="1" height="14" fill="#000"/>
<rect x="329" y="300" width="5" height="3" fill="#000"/>
<rect x="330" y="301" width="3" height="1" fill="#e4e6ee"/>
<rect x="337" y="292" width="1" height="17" fill="#000"/>
<rect x="335" y="299" width="5" height="8" fill="#000"/>
<rect x="343" y="284" width="1" height="26" fill="#000"/>
<rect x="341" y="292" width="5" height="14" fill="#000"/>
<rect x="342" y="293" width="3" height="12" fill="#e4e6ee"/>
<rect x="349" y="289" width="1" height="15" fill="#000"/>
<rect x="347" y="292" width="5" height="6" fill="#000"/>
<rect x="355" y="285" width="1" height="13" fill="#000"/>
<rect x="353" y="293" width="5" height="5" fill="#000"/>
<rect x="354" y="294" width="3" height="3" fill="#e4e6ee"/>
<rect x="361" y="291" width="1" height="7" fill="#000"/>
<rect x="359" y="292" width="5" height="5" fill="#000"/>
<rect x="367" y="292" width="1" height="8" fill="#000"/>
<rect x="365" y="295" width="5" height="5" fill="#000"/>
<rect x="373" y="280" width="1" height="21" fill="#000"/>
<rect x="371" y="291" width="5" height="10" fill="#000"/>
<rect x="372" y="292" width="3" height="8" fill="#e4e6ee"/>
<rect x="379" y="289" width="1" height="15" fill="#000"/>
<rect x="377" y="290" width="5" height="8" fill="#000"/>
<rect x="385" y="292" width="1" height="7" fill="#000"/>
<rect x="383" y="294" width="5" height="4" fill="#000"/>
<rect x="384" y="295" width="3" height="2" fill="#e4e6ee"/>
<rect x="391" y="287" width="1" height="7" fill="#000"/>
<rect x="389" y="292" width="5" height="3" fill="#000"/>
<rect x="390" y="293" width="3" height="1" fill="#e4e6ee"/>
<rect x="397" y="280" width="1" height="23" fill="#000"/>
<rect x="395" y="291" width="5" height="8" fill="#000"/>
<rect x="403" y="285" width="1" height="13" fill="#000"/>
<rect x="401" y="288" width="5" height="11" fill="#000"/>
<rect x="402" y="289" width="3" height="9" fill="#e4e6ee"/>
<rect x="409" y="280" width="1" height="10" fill="#000"/>
<rect x="407" y="282" width="5" height="7" fill="#000"/>
<rect x="408" y="283" width="3" height="5" fill="#e4e6ee"/>
<rect x="415" y="280" width="1" height="38" fill="#000"/>
<rect x="413" y="282" width="5" height="33" fill="#000"/>
<rect x="421" y="312" width="1" height="22" fill="#000"/>
<rect x="419" y="314" width="5" height="3" fill="#000"/>
<rect x="427" y="315" width="1" height="25" fill="#000"/>
<rect x="425" y="316" width="5" height="18" fill="#000"/>
<rect x="433" y="327" width="1" height="16" fill="#000"/>
<rect x="431" y="332" width="5" height="4" fill="#000"/>
<rect x="439" y="334" width="1" height="25" fill="#000"/>
<rect x="437" y="335" width="5" height="8" fill="#000"/>
<rect x="446" y="338" width="1" height="14" fill="#000"/>
<rect x="444" y="342" width="5" height="3" fill="#000"/>
<rect x="452" y="310" width="1" height="39" fill="#000"/>
<rect x="450" y="314" width="5" height="31" fill="#000"/>
<rect x="451" y="315" width="3" height="29" fill="#e4e6ee"/>
<rect x="458" y="313" width="1" height="42" fill="#000"/>
<rect x="456" y="314" width="5" height="38" fill="#000"/>
<rect x="464" y="344" width="1" height="23" fill="#000"/>
<rect x="462" y="349" width="5" height="3" fill="#000"/>
<rect x="463" y="350" width="3" height="1" fill="#e4e6ee"/>
<rect x="470" y="338" width="1" height="11" fill="#000"/>
<rect x="468" y="343" width="5" height="7" fill="#000"/>
<rect x="469" y="344" width="3" height="5" fill="#e4e6ee"/>
<rect x="476" y="334" width="1" height="14" fill="#000"/>
<rect x="474" y="342" width="5" height="6" fill="#000"/>
<rect x="482" y="340" width="1" height="14" fill="#000"/>
<rect x="480" y="346" width="5" height="8" fill="#000"/>
<rect x="488" y="342" width="1" height="11" fill="#000"/>
<rect x="486" y="346" width="5" height="8" fill="#000"/>
<rect x="487" y="347" width="3" height="6" fill="#e4e6ee"/>
<rect x="494" y="345" width="1" height="22" fill="#000"/>
<rect x="492" y="345" width="5" height="20" fill="#000"/>
<rect x="500" y="351" width="1" height="35" fill="#000"/>
<rect x="498" y="364" width="5" height="18" fill="#000"/>
<rect x="506" y="370" width="1" height="21" fill="#000"/>
<rect x="504" y="375" width="5" height="6" fill="#000"/>
<rect x="505" y="376" width="3" height="4" fill="#e4e6ee"/>
<rect x="512" y="370" width="1" height="14" fill="#000"/>
<rect x="510" y="375" width="5" height="2" fill="#000"/>
<rect x="518" y="373" width="1" height="12" fill="#000"/>
<rect x="516" y="376" width="5" height="5" fill="#000"/>
<rect x="524" y="372" width="1" height="9" fill="#000"/>
<rect x="522" y="376" width="5" height="5" fill="#000"/>
<rect x="523" y="377" width="3" height="3" fill="#e4e6ee"/>
<rect x="530" y="371" width="1" height="5" fill="#000"/>
<rect x="528" y="373" width="5" height="3" fill="#000"/>
<rect x="529" y="374" width="3" height="1" fill="#e4e6ee"/>
<rect x="536" y="371" width="1" height="10" fill="#000"/>
<rect x="534" y="373" width="5" height="6" fill="#000"/>
<rect x="542" y="371" width="1" height="8" fill="#000"/>
<rect x="540" y="374" width="5" height="5" fill="#000"/>
<rect x="541" y="375" width="3" height="3" fill="#e4e6ee"/>
<rect x="548" y="374" width="1" height="5" fill="#000"/>
<rect x="546" y="374" width="5" height="1.6" fill="#000"/>
<rect x="554" y="359" width="1" height="15" fill="#000"/>
<rect x="552" y="361" width="5" height="13" fill="#000"/>
<rect x="553" y="362" width="3" height="11" fill="#e4e6ee"/>
<rect x="560" y="359" width="1" height="12" fill="#000"/>
<rect x="558" y="361" width="5" height="8" fill="#000"/>
<rect x="566" y="366" width="1" height="7" fill="#000"/>
<rect x="564" y="368" width="5" height="4" fill="#000"/>
<rect x="572" y="366" width="1" height="5" fill="#000"/>
<rect x="570" y="368" width="5" height="3" fill="#000"/>
<rect x="571" y="369" width="3" height="1" fill="#e4e6ee"/>
<rect x="578" y="364" width="1" height="5" fill="#000"/>
<rect x="576" y="366" width="5" height="3" fill="#000"/>
<rect x="577" y="367" width="3" height="1" fill="#e4e6ee"/>
<rect x="585" y="356" width="1" height="13" fill="#000"/>
<rect x="583" y="358" width="5" height="9" fill="#000"/>
<rect x="584" y="359" width="3" height="7" fill="#e4e6ee"/>
<rect x="591" y="356" width="1" height="7" fill="#000"/>
<rect x="589" y="358" width="5" height="3" fill="#000"/>
<rect x="597" y="358" width="1" height="10" fill="#000"/>
<rect x="595" y="360" width="5" height="7" fill="#000"/>
<rect x="603" y="363" width="1" height="5" fill="#000"/>
<rect x="601" y="365" width="5" height="1.6" fill="#000"/>
<rect x="609" y="365" width="1" height="16" fill="#000"/>
<rect x="607" y="366" width="5" height="13" fill="#000"/>
<rect x="615" y="375" width="1" height="12" fill="#000"/>
<rect x="613" y="377" width="5" height="9" fill="#000"/>
<rect x="621" y="382" width="1" height="8" fill="#000"/>
<rect x="619" y="384" width="5" height="3" fill="#000"/>
<rect x="627" y="381" width="1" height="8" fill="#000"/>
<rect x="625" y="385" width="5" height="2" fill="#000"/>
<rect x="633" y="374" width="1" height="12" fill="#000"/>
<rect x="631" y="376" width="5" height="10" fill="#000"/>
<rect x="632" y="377" width="3" height="8" fill="#e4e6ee"/>
<rect x="639" y="371" width="1" height="18" fill="#000"/>
<rect x="637" y="376" width="5" height="13" fill="#000"/>
<rect x="645" y="382" width="1" height="9" fill="#000"/>
<rect x="643" y="385" width="5" height="3" fill="#000"/>
<rect x="644" y="386" width="3" height="1" fill="#e4e6ee"/>
<rect x="651" y="382" width="1" height="9" fill="#000"/>
<rect x="649" y="385" width="5" height="1.6" fill="#000"/>
<rect x="657" y="384" width="1" height="6" fill="#000"/>
<rect x="655" y="386" width="5" height="1.6" fill="#000"/>
<rect x="663" y="385" width="1" height="29" fill="#000"/>
<rect x="661" y="386" width="5" height="25" fill="#000"/>
<rect x="669" y="403" width="1" height="24" fill="#000"/>
<rect x="667" y="409" width="5" height="4" fill="#000"/>
<rect x="675" y="405" width="1" height="19" fill="#000"/>
<rect x="673" y="412" width="5" height="9" fill="#000"/>
<rect x="681" y="398" width="1" height="29" fill="#000"/>
<rect x="679" y="401" width="5" height="20" fill="#000"/>
<rect x="680" y="402" width="3" height="18" fill="#e4e6ee"/>
<rect x="687" y="398" width="1" height="22" fill="#000"/>
<rect x="685" y="400" width="5" height="17" fill="#000"/>
<rect x="693" y="408" width="1" height="9" fill="#000"/>
<rect x="691" y="412" width="5" height="5" fill="#000"/>
<rect x="692" y="413" width="3" height="3" fill="#e4e6ee"/>
<rect x="699" y="400" width="1" height="12" fill="#000"/>
<rect x="697" y="403" width="5" height="9" fill="#000"/>
<rect x="698" y="404" width="3" height="7" fill="#e4e6ee"/>
<rect x="705" y="402" width="1" height="9" fill="#000"/>
<rect x="703" y="403" width="5" height="6" fill="#000"/>
<rect x="711" y="398" width="1" height="10" fill="#000"/>
<rect x="709" y="406" width="5" height="3" fill="#000"/>
<rect x="710" y="407" width="3" height="1" fill="#e4e6ee"/>
<rect x="717" y="401" width="1" height="8" fill="#000"/>
<rect x="715" y="405" width="5" height="4" fill="#000"/>
<rect x="724" y="406" width="1" height="8" fill="#000"/>
<rect x="722" y="408" width="5" height="4" fill="#000"/>
<rect x="730" y="406" width="1" height="5" fill="#000"/>
<rect x="728" y="409" width="5" height="1.6" fill="#000"/>
<rect x="736" y="407" width="1" height="3" fill="#000"/>
<rect x="734" y="408" width="5" height="1.6" fill="#000"/>
<rect x="742" y="404" width="1" height="5" fill="#000"/>
<rect x="740" y="406" width="5" height="3" fill="#000"/>
<rect x="741" y="407" width="3" height="1" fill="#e4e6ee"/>
<rect x="748" y="405" width="1" height="6" fill="#000"/>
<rect x="746" y="406" width="5" height="5" fill="#000"/>
<rect x="754" y="401" width="1" height="9" fill="#000"/>
<rect x="752" y="409" width="5" height="1.6" fill="#000"/>
<rect x="760" y="389" width="1" height="24" fill="#000"/>
<rect x="758" y="392" width="5" height="18" fill="#000"/>
<rect x="759" y="393" width="3" height="16" fill="#e4e6ee"/>
<rect x="766" y="383" width="1" height="9" fill="#000"/>
<rect x="764" y="388" width="5" height="4" fill="#000"/>
<rect x="765" y="389" width="3" height="2" fill="#e4e6ee"/>
<rect x="772" y="387" width="1" height="8" fill="#000"/>
<rect x="770" y="388" width="5" height="4" fill="#000"/>
<rect x="778" y="384" width="1" height="9" fill="#000"/>
<rect x="776" y="388" width="5" height="4" fill="#000"/>
<rect x="777" y="389" width="3" height="2" fill="#e4e6ee"/>
<rect x="784" y="383" width="1" height="5" fill="#000"/>
<rect x="782" y="386" width="5" height="3" fill="#000"/>
<rect x="783" y="387" width="3" height="1" fill="#e4e6ee"/>
<rect x="790" y="381" width="1" height="8" fill="#000"/>
<rect x="788" y="386" width="5" height="3" fill="#000"/>
<rect x="796" y="384" width="1" height="8" fill="#000"/>
<rect x="794" y="387" width="5" height="1.6" fill="#000"/>
<rect x="802" y="382" width="1" height="6" fill="#000"/>
<rect x="800" y="387" width="5" height="1.6" fill="#000"/>
<rect x="808" y="385" width="1" height="9" fill="#000"/>
<rect x="806" y="387" width="5" height="1.6" fill="#000"/>
<rect x="814" y="379" width="1" height="9" fill="#000"/>
<rect x="812" y="383" width="5" height="6" fill="#000"/>
<rect x="813" y="384" width="3" height="4" fill="#e4e6ee"/>
<rect x="820" y="380" width="1" height="5" fill="#000"/>
<rect x="818" y="383" width="5" height="1.6" fill="#000"/>
<rect x="826" y="382" width="1" height="4" fill="#000"/>
<rect x="824" y="383" width="5" height="1.6" fill="#000"/>
<rect x="832" y="382" width="1" height="5" fill="#000"/>
<rect x="830" y="383" width="5" height="4" fill="#000"/>
<rect x="838" y="383" width="1" height="6" fill="#000"/>
<rect x="836" y="385" width="5" height="1.6" fill="#000"/>
<rect x="844" y="385" width="1" height="7" fill="#000"/>
<rect x="842" y="385" width="5" height="1.6" fill="#000"/>
<rect x="850" y="382" width="1" height="7" fill="#000"/>
<rect x="848" y="385" width="5" height="1.6" fill="#000"/>
<rect x="856" y="343" width="1" height="44" fill="#000"/>
<rect x="854" y="346" width="5" height="41" fill="#000"/>
<rect x="855" y="347" width="3" height="39" fill="#e4e6ee"/>
<rect x="863" y="316" width="1" height="31" fill="#000"/>
<rect x="861" y="332" width="5" height="15" fill="#000"/>
<rect x="862" y="333" width="3" height="13" fill="#e4e6ee"/>
<rect x="869" y="305" width="1" height="29" fill="#000"/>
<rect x="867" y="308" width="5" height="24" fill="#000"/>
<rect x="868" y="309" width="3" height="22" fill="#e4e6ee"/>
<rect x="875" y="304" width="1" height="18" fill="#000"/>
<rect x="873" y="308" width="5" height="7" fill="#000"/>
<rect x="881" y="301" width="1" height="24" fill="#000"/>
<rect x="879" y="314" width="5" height="3" fill="#000"/>
<rect x="887" y="295" width="1" height="29" fill="#000"/>
<rect x="885" y="298" width="5" height="19" fill="#000"/>
<rect x="886" y="299" width="3" height="17" fill="#e4e6ee"/>
<rect x="893" y="292" width="1" height="18" fill="#000"/>
<rect x="891" y="297" width="5" height="9" fill="#000"/>
<rect x="899" y="300" width="1" height="18" fill="#000"/>
<rect x="897" y="305" width="5" height="7" fill="#000"/>
<rect x="905" y="300" width="1" height="11" fill="#000"/>
<rect x="903" y="310" width="5" height="1.6" fill="#000"/>
<rect x="911" y="312" width="1" height="9" fill="#000"/>
<rect x="909" y="312" width="5" height="8" fill="#000"/>
<rect x="917" y="306" width="1" height="26" fill="#000"/>
<rect x="915" y="316" width="5" height="3" fill="#000"/>
<rect x="916" y="317" width="3" height="1" fill="#e4e6ee"/>
<rect x="923" y="310" width="1" height="21" fill="#000"/>
<rect x="921" y="313" width="5" height="4" fill="#000"/>
<rect x="922" y="314" width="3" height="2" fill="#e4e6ee"/>
<rect x="929" y="306" width="1" height="14" fill="#000"/>
<rect x="927" y="312" width="5" height="1.6" fill="#000"/>
<rect x="935" y="303" width="1" height="16" fill="#000"/>
<rect x="933" y="311" width="5" height="3" fill="#000"/>
<rect x="934" y="312" width="3" height="1" fill="#e4e6ee"/>
<rect x="941" y="295" width="1" height="16" fill="#000"/>
<rect x="939" y="299" width="5" height="12" fill="#000"/>
<rect x="940" y="300" width="3" height="10" fill="#e4e6ee"/>
<rect x="947" y="291" width="1" height="23" fill="#000"/>
<rect x="945" y="298" width="5" height="15" fill="#000"/>
<rect x="953" y="307" width="1" height="7" fill="#000"/>
<rect x="951" y="312" width="5" height="1.6" fill="#000"/>
<rect x="959" y="310" width="1" height="9" fill="#000"/>
<rect x="957" y="311" width="5" height="3" fill="#000"/>
<rect x="958" y="312" width="3" height="1" fill="#e4e6ee"/>
<rect x="965" y="305" width="1" height="7" fill="#000"/>
<rect x="963" y="309" width="5" height="3" fill="#000"/>
<rect x="971" y="293" width="1" height="21" fill="#000"/>
<rect x="969" y="299" width="5" height="11" fill="#000"/>
<rect x="970" y="300" width="3" height="9" fill="#e4e6ee"/>
<rect x="977" y="296" width="1" height="8" fill="#000"/>
<rect x="975" y="297" width="5" height="3" fill="#000"/>
<rect x="976" y="298" width="3" height="1" fill="#e4e6ee"/>
<rect x="983" y="286" width="1" height="17" fill="#000"/>
<rect x="981" y="297" width="5" height="6" fill="#000"/>
<rect x="989" y="300" width="1" height="14" fill="#000"/>
<rect x="987" y="302" width="5" height="12" fill="#000"/>
<rect x="995" y="310" width="1" height="8" fill="#000"/>
<rect x="993" y="312" width="5" height="1.6" fill="#000"/>
<rect x="1001" y="310" width="1" height="8" fill="#000"/>
<rect x="999" y="311" width="5" height="2" fill="#000"/>
<rect x="1008" y="303" width="1" height="15" fill="#000"/>
<rect x="1006" y="304" width="5" height="8" fill="#000"/>
<rect x="1007" y="305" width="3" height="6" fill="#e4e6ee"/>
<rect x="1014" y="299" width="1" height="8" fill="#000"/>
<rect x="1012" y="304" width="5" height="3" fill="#000"/>
<rect x="1020" y="297" width="1" height="10" fill="#000"/>
<rect x="1018" y="305" width="5" height="3" fill="#000"/>
<rect x="1019" y="306" width="3" height="1" fill="#e4e6ee"/>
<rect x="1026" y="301" width="1" height="25" fill="#000"/>
<rect x="1024" y="304" width="5" height="22" fill="#000"/>
<rect x="1032" y="312" width="1" height="15" fill="#000"/>
<rect x="1030" y="319" width="5" height="6" fill="#000"/>
<rect x="1031" y="320" width="3" height="4" fill="#e4e6ee"/>
<rect x="1038" y="311" width="1" height="9" fill="#000"/>
<rect x="1036" y="313" width="5" height="6" fill="#000"/>
<rect x="1037" y="314" width="3" height="4" fill="#e4e6ee"/>
<rect x="1044" y="310" width="1" height="6" fill="#000"/>
<rect x="1042" y="313" width="5" height="1.6" fill="#000"/>
<rect x="1050" y="295" width="1" height="22" fill="#000"/>
<rect x="1048" y="297" width="5" height="18" fill="#000"/>
<rect x="1049" y="298" width="3" height="16" fill="#e4e6ee"/>
<rect x="1056" y="282" width="1" height="17" fill="#000"/>
<rect x="1054" y="283" width="5" height="16" fill="#000"/>
<rect x="1055" y="284" width="3" height="14" fill="#e4e6ee"/>
<rect x="1062" y="275" width="1" height="15" fill="#000"/>
<rect x="1060" y="283" width="5" height="6" fill="#000"/>
<rect x="1068" y="286" width="1" height="17" fill="#000"/>
<rect x="1066" y="287" width="5" height="15" fill="#000"/>
<rect x="1074" y="300" width="1" height="22" fill="#000"/>
<rect x="1072" y="300" width="5" height="9" fill="#000"/>
<rect x="1080" y="306" width="1" height="10" fill="#000"/>
<rect x="1078" y="308" width="5" height="6" fill="#000"/>
<rect x="1086" y="308" width="1" height="8" fill="#000"/>
<rect x="1084" y="310" width="5" height="3" fill="#000"/>
<rect x="1085" y="311" width="3" height="1" fill="#e4e6ee"/>
<rect x="1092" y="297" width="1" height="17" fill="#000"/>
<rect x="1090" y="310" width="5" height="1.6" fill="#000"/>
<rect x="1098" y="303" width="1" height="17" fill="#000"/>
<rect x="1096" y="312" width="5" height="3" fill="#000"/>
<rect x="1104" y="310" width="1" height="9" fill="#000"/>
<rect x="1102" y="313" width="5" height="1.6" fill="#000"/>
<rect x="1110" y="310" width="1" height="7" fill="#000"/>
<rect x="1108" y="313" width="5" height="1.6" fill="#000"/>
<rect x="1116" y="308" width="1" height="20" fill="#000"/>
<rect x="1114" y="313" width="5" height="14" fill="#000"/>
<rect x="1122" y="320" width="1" height="24" fill="#000"/>
<rect x="1120" y="326" width="5" height="12" fill="#000"/>
<rect x="1128" y="334" width="1" height="19" fill="#000"/>
<rect x="1126" y="336" width="5" height="9" fill="#000"/>
<rect x="1134" y="321" width="1" height="26" fill="#000"/>
<rect x="1132" y="324" width="5" height="20" fill="#000"/>
<rect x="1133" y="325" width="3" height="18" fill="#e4e6ee"/>
<rect x="1140" y="317" width="1" height="10" fill="#000"/>
<rect x="1138" y="321" width="5" height="4" fill="#000"/>
<rect x="1139" y="322" width="3" height="2" fill="#e4e6ee"/>
<rect x="1147" y="318" width="1" height="8" fill="#000"/>
<rect x="1145" y="320" width="5" height="4" fill="#000"/>
<rect x="1153" y="313" width="1" height="13" fill="#000"/>
<rect x="1151" y="323" width="5" height="1.6" fill="#000"/>
<rect x="1159" y="319" width="1" height="8" fill="#000"/>
<rect x="1157" y="323" width="5" height="1.6" fill="#000"/>
<rect x="1165" y="320" width="1" height="5" fill="#000"/>
<rect x="1163" y="322" width="5" height="1.6" fill="#000"/>
<rect x="1171" y="313" width="1" height="11" fill="#000"/>
<rect x="1169" y="316" width="5" height="7" fill="#000"/>
<rect x="1170" y="317" width="3" height="5" fill="#e4e6ee"/>
<rect x="1177" y="313" width="1" height="9" fill="#000"/>
<rect x="1175" y="314" width="5" height="5" fill="#000"/>
<rect x="1183" y="315" width="1" height="15" fill="#000"/>
<rect x="1181" y="318" width="5" height="9" fill="#000"/>
<rect x="1189" y="303" width="1" height="23" fill="#000"/>
<rect x="1187" y="309" width="5" height="17" fill="#000"/>
<rect x="1188" y="310" width="3" height="15" fill="#e4e6ee"/>
<rect x="1195" y="301" width="1" height="8" fill="#000"/>
<rect x="1193" y="306" width="5" height="3" fill="#000"/>
<rect x="1194" y="307" width="3" height="1" fill="#e4e6ee"/>
<rect x="1201" y="305" width="1" height="13" fill="#000"/>
<rect x="1199" y="306" width="5" height="9" fill="#000"/>
<rect x="1207" y="312" width="1" height="4" fill="#000"/>
<rect x="1205" y="313" width="5" height="1.6" fill="#000"/>
<rect x="1213" y="304" width="1" height="10" fill="#000"/>
<rect x="1211" y="309" width="5" height="5" fill="#000"/>
<rect x="1212" y="310" width="3" height="3" fill="#e4e6ee"/>
<rect x="1219" y="306" width="1" height="8" fill="#000"/>
<rect x="1217" y="308" width="5" height="5" fill="#000"/>
<rect x="1225" y="303" width="1" height="9" fill="#000"/>
<rect x="1223" y="304" width="5" height="8" fill="#000"/>
<rect x="1224" y="305" width="3" height="6" fill="#e4e6ee"/>
<rect x="1231" y="285" width="1" height="21" fill="#000"/>
<rect x="1229" y="289" width="5" height="16" fill="#000"/>
<rect x="1230" y="290" width="3" height="14" fill="#e4e6ee"/>
<rect x="1237" y="264" width="1" height="25" fill="#000"/>
<rect x="1235" y="270" width="5" height="19" fill="#000"/>
<rect x="1236" y="271" width="3" height="17" fill="#e4e6ee"/>
<rect x="1243" y="260" width="1" height="11" fill="#000"/>
<rect x="1241" y="268" width="5" height="1.6" fill="#000"/>
<rect x="1249" y="266" width="1" height="8" fill="#000"/>
<rect x="1247" y="268" width="5" height="3" fill="#000"/>
<rect x="1255" y="262" width="1" height="8" fill="#000"/>
<rect x="1253" y="267" width="5" height="4" fill="#000"/>
<rect x="1254" y="268" width="3" height="2" fill="#e4e6ee"/>
<rect x="1261" y="255" width="1" height="13" fill="#000"/>
<rect x="1259" y="263" width="5" height="5" fill="#000"/>
<rect x="1260" y="264" width="3" height="3" fill="#e4e6ee"/>
<rect x="1267" y="248" width="1" height="23" fill="#000"/>
<rect x="1265" y="250" width="5" height="14" fill="#000"/>
<rect x="1266" y="251" width="3" height="12" fill="#e4e6ee"/>
<rect x="1273" y="220" width="1" height="34" fill="#000"/>
<rect x="1271" y="226" width="5" height="25" fill="#000"/>
<rect x="1272" y="227" width="3" height="23" fill="#e4e6ee"/>
<rect x="1279" y="210" width="1" height="22" fill="#000"/>
<rect x="1277" y="216" width="5" height="11" fill="#000"/>
<rect x="1278" y="217" width="3" height="9" fill="#e4e6ee"/>
<rect x="1286" y="195" width="1" height="22" fill="#000"/>
<rect x="1284" y="209" width="5" height="8" fill="#000"/>
<rect x="1285" y="210" width="3" height="6" fill="#e4e6ee"/>
<rect x="1292" y="201" width="1" height="11" fill="#000"/>
<rect x="1290" y="203" width="5" height="6" fill="#000"/>
<rect x="1291" y="204" width="3" height="4" fill="#e4e6ee"/>
<rect x="1298" y="179" width="1" height="26" fill="#000"/>
<rect x="1296" y="187" width="5" height="17" fill="#000"/>
<rect x="1297" y="188" width="3" height="15" fill="#e4e6ee"/>
<rect x="1304" y="176" width="1" height="16" fill="#000"/>
<rect x="1302" y="186" width="5" height="1.6" fill="#000"/>
<rect x="1310" y="182" width="1" height="19" fill="#000"/>
<rect x="1308" y="186" width="5" height="1.6" fill="#000"/>
<rect x="1316" y="187" width="1" height="23" fill="#000"/>
<rect x="1314" y="187" width="5" height="14" fill="#000"/>
<rect x="1322" y="185" width="1" height="27" fill="#000"/>
<rect x="1320" y="191" width="5" height="10" fill="#000"/>
<rect x="1321" y="192" width="3" height="8" fill="#e4e6ee"/>
<rect x="1328" y="187" width="1" height="18" fill="#000"/>
<rect x="1326" y="190" width="5" height="1.6" fill="#000"/>
<rect x="1334" y="183" width="1" height="8" fill="#000"/>
<rect x="1332" y="188" width="5" height="3" fill="#000"/>
<rect x="1333" y="189" width="3" height="1" fill="#e4e6ee"/>
<rect x="1340" y="174" width="1" height="15" fill="#000"/>
<rect x="1338" y="175" width="5" height="14" fill="#000"/>
<rect x="1339" y="176" width="3" height="12" fill="#e4e6ee"/>
<rect x="1346" y="167" width="1" height="20" fill="#000"/>
<rect x="1344" y="175" width="5" height="8" fill="#000"/>
<rect x="1352" y="173" width="1" height="18" fill="#000"/>
<rect x="1350" y="181" width="5" height="1.6" fill="#000"/>
<rect x="1358" y="178" width="1" height="16" fill="#000"/>
<rect x="1356" y="181" width="5" height="3" fill="#000"/>
<rect x="1357" y="182" width="3" height="1" fill="#e4e6ee"/>
<rect x="1364" y="174" width="1" height="20" fill="#000"/>
<rect x="1362" y="181" width="5" height="13" fill="#000"/>
<rect x="1370" y="190" width="1" height="30" fill="#000"/>
<rect x="1368" y="192" width="5" height="24" fill="#000"/>
<rect x="1376" y="209" width="1" height="17" fill="#000"/>
<rect x="1374" y="214" width="5" height="11" fill="#000"/>
<rect x="1382" y="210" width="1" height="18" fill="#000"/>
<rect x="1380" y="213" width="5" height="12" fill="#000"/>
<rect x="1381" y="214" width="3" height="10" fill="#e4e6ee"/>
<rect x="1388" y="188" width="1" height="26" fill="#000"/>
<rect x="1386" y="191" width="5" height="23" fill="#000"/>
<rect x="1387" y="192" width="3" height="21" fill="#e4e6ee"/>
<rect x="1394" y="190" width="1" height="18" fill="#000"/>
<rect x="1392" y="191" width="5" height="12" fill="#000"/>
<rect x="1400" y="192" width="1" height="14" fill="#000"/>
<rect x="1398" y="195" width="5" height="7" fill="#000"/>
<rect x="1399" y="196" width="3" height="5" fill="#e4e6ee"/>
<rect x="1406" y="171" width="1" height="27" fill="#000"/>
<rect x="1404" y="172" width="5" height="23" fill="#000"/>
<rect x="1405" y="173" width="3" height="21" fill="#e4e6ee"/>
<rect x="1412" y="155" width="1" height="19" fill="#000"/>
<rect x="1410" y="161" width="5" height="10" fill="#000"/>
<rect x="1411" y="162" width="3" height="8" fill="#e4e6ee"/>
<rect x="1418" y="134" width="1" height="26" fill="#000"/>
<rect x="1416" y="136" width="5" height="25" fill="#000"/>
<rect x="1417" y="137" width="3" height="23" fill="#e4e6ee"/>
<rect x="1425" y="127" width="1" height="19" fill="#000"/>
<rect x="1423" y="136" width="5" height="1.6" fill="#000"/>
<rect x="1431" y="124" width="1" height="20" fill="#000"/>
<rect x="1429" y="136" width="5" height="4" fill="#000"/>
<rect x="1437" y="96" width="1" height="44" fill="#000"/>
<rect x="1435" y="101" width="5" height="39" fill="#000"/>
<rect x="1436" y="102" width="3" height="37" fill="#e4e6ee"/>
<rect x="1443" y="80" width="1" height="24" fill="#000"/>
<rect x="1441" y="86" width="5" height="16" fill="#000"/>
<rect x="1442" y="87" width="3" height="14" fill="#e4e6ee"/>
<rect x="1449" y="81" width="1" height="34" fill="#000"/>
<rect x="1447" y="85" width="5" height="21" fill="#000"/>
<rect x="1455" y="93" width="1" height="31" fill="#000"/>
<rect x="1453" y="105" width="5" height="12" fill="#000"/>
<rect x="1461" y="111" width="1" height="12" fill="#000"/>
<rect x="1459" y="116" width="5" height="3" fill="#000"/>
<rect x="1467" y="102" width="1" height="19" fill="#000"/>
<rect x="1465" y="114" width="5" height="5" fill="#000"/>
<rect x="1466" y="115" width="3" height="3" fill="#e4e6ee"/>
<rect x="1473" y="111" width="1" height="23" fill="#000"/>
<rect x="1471" y="113" width="5" height="17" fill="#000"/>
<rect x="1479" y="125" width="1" height="30" fill="#000"/>
<rect x="1477" y="129" width="5" height="26" fill="#000"/>
<rect x="1485" y="123" width="1" height="33" fill="#000"/>
<rect x="1483" y="126" width="5" height="29" fill="#000"/>
<rect x="1484" y="127" width="3" height="27" fill="#e4e6ee"/>
</g>
<line x1="15" y1="153.3" x2="1601" y2="171.5" stroke="#000" stroke-width="2.8" stroke-linecap="round"/>
<line x1="15" y1="427.7" x2="1601" y2="411" stroke="#000" stroke-width="2.8" stroke-linecap="round"/>
<line x1="680.5" y1="426.8" x2="1128" y2="353.4" stroke="#000" stroke-width="2.8" stroke-linecap="round"/>
<line x1="1128" y1="353.4" x2="1587" y2="147" stroke="#000" stroke-width="2.8" stroke-linecap="round"/>
<line x1="1128" y1="353.4" x2="1316" y2="322.3" stroke="#000" stroke-width="2.8" stroke-linecap="round"/>
<line x1="916" y1="333.3" x2="1329" y2="325" stroke="#000" stroke-width="2.8" stroke-linecap="round"/>
<line x1="832" y1="377.5" x2="887" y2="290" stroke="#000" stroke-width="2.8" stroke-linecap="round"/>
<line x1="1224" y1="305" x2="1304" y2="175" stroke="#000" stroke-width="2.8" stroke-linecap="round"/>
<line x1="1382" y1="210" x2="1443" y2="80.5" stroke="#000" stroke-width="2.8" stroke-linecap="round"/>
<text x="1666.5" y="58.800000000000004" font-family="'DejaVu Sans Condensed','DejaVu Sans',sans-serif" font-size="16.9" fill="#131722" text-anchor="end" textLength="96.4" lengthAdjust="spacingAndGlyphs" stroke="#131722" stroke-width="0.3">1 (4,882.25)</text>
<text x="1666.5" y="147.7" font-family="'DejaVu Sans Condensed','DejaVu Sans',sans-serif" font-size="16.9" fill="#131722" text-anchor="end" textLength="132.6" lengthAdjust="spacingAndGlyphs" stroke="#131722" stroke-width="0.3">0.786 (4,014.48)</text>
<text x="1666.5" y="217.6" font-family="'DejaVu Sans Condensed','DejaVu Sans',sans-serif" font-size="16.9" fill="#131722" text-anchor="end" textLength="132.4" lengthAdjust="spacingAndGlyphs" stroke="#131722" stroke-width="0.3">0.618 (3,333.24)</text>
<text x="1666.5" y="266.59999999999997" font-family="'DejaVu Sans Condensed','DejaVu Sans',sans-serif" font-size="16.9" fill="#131722" text-anchor="end" textLength="113.2" lengthAdjust="spacingAndGlyphs" stroke="#131722" stroke-width="0.3">0.5 (2,854.75)</text>
<text x="1666.5" y="315.8" font-family="'DejaVu Sans Condensed','DejaVu Sans',sans-serif" font-size="16.9" fill="#131722" text-anchor="end" textLength="132.2" lengthAdjust="spacingAndGlyphs" stroke="#131722" stroke-width="0.3">0.382 (2,376.26)</text>
<text x="1666.5" y="375.9" font-family="'DejaVu Sans Condensed','DejaVu Sans',sans-serif" font-size="16.9" fill="#131722" text-anchor="end" textLength="132.4" lengthAdjust="spacingAndGlyphs" stroke="#131722" stroke-width="0.3">0.236 (1,784.24)</text>
<text x="1666.5" y="473.4" font-family="'DejaVu Sans Condensed','DejaVu Sans',sans-serif" font-size="16.9" fill="#131722" text-anchor="end" textLength="81" lengthAdjust="spacingAndGlyphs" stroke="#131722" stroke-width="0.3">0 (827.26)</text>
<text x="27.7" y="69.7" font-family="'DejaVu Sans Condensed','DejaVu Sans',sans-serif" font-size="17.2" fill="#131722" textLength="292.8" lengthAdjust="spacingAndGlyphs" stroke="#131722" stroke-width="0.3">Ethereum / TetherUS · 1D · BINANCE</text>
<text x="333.2" y="69.7" font-family="'DejaVu Sans Condensed','DejaVu Sans',sans-serif" font-size="17.2" fill="#131722" textLength="81" lengthAdjust="spacingAndGlyphs" stroke="#131722" stroke-width="0.3">O4,075.58</text>
<text x="426.3" y="69.7" font-family="'DejaVu Sans Condensed','DejaVu Sans',sans-serif" font-size="17.2" fill="#131722" textLength="80.8" lengthAdjust="spacingAndGlyphs" stroke="#131722" stroke-width="0.3">H4,378.00</text>
<text x="519.1" y="69.7" font-family="'DejaVu Sans Condensed','DejaVu Sans',sans-serif" font-size="17.2" fill="#131722" textLength="77.5" lengthAdjust="spacingAndGlyphs" stroke="#131722" stroke-width="0.3">L4,060.00</text>
<text x="608.6" y="69.7" font-family="'DejaVu Sans Condensed','DejaVu Sans',sans-serif" font-size="17.2" fill="#131722" textLength="78.4" lengthAdjust="spacingAndGlyphs" stroke="#131722" stroke-width="0.3">C4,342.21</text>
<text x="700.2" y="69.7" font-family="'DejaVu Sans Condensed','DejaVu Sans',sans-serif" font-size="17.2" fill="#131722" textLength="61.6" lengthAdjust="spacingAndGlyphs" stroke="#131722" stroke-width="0.3">+266.62</text>
<text x="769.7" y="69.7" font-family="'DejaVu Sans Condensed','DejaVu Sans',sans-serif" font-size="17.2" fill="#131722" textLength="66" lengthAdjust="spacingAndGlyphs" stroke="#131722" stroke-width="0.3">(+6.54%)</text>
<text x="27.6" y="95.8" font-family="'DejaVu Sans Condensed','DejaVu Sans',sans-serif" font-size="16.9" fill="#131722" textLength="38" lengthAdjust="spacingAndGlyphs" stroke="#131722" stroke-width="0.3">SMAs</text>
<text x="27.9" y="121.6" font-family="'DejaVu Sans Condensed','DejaVu Sans',sans-serif" font-size="16.9" fill="#131722" textLength="31.9" lengthAdjust="spacingAndGlyphs" stroke="#131722" stroke-width="0.3">EMA</text>
</g>
<g clip-path="url(#cr)">
<rect x="15" y="500.5" width="1665" height="48.6" fill="#7e57c2" fill-opacity="0.1"/>
<line x1="15" y1="500.5" x2="1680" y2="500.5" stroke="#787b86" stroke-opacity="1" stroke-width="1" stroke-dasharray="5 4"/>
<line x1="15" y1="525.5" x2="1680" y2="525.5" stroke="#787b86" stroke-opacity="0.5" stroke-width="1" stroke-dasharray="5 4"/>
<line x1="15" y1="549.5" x2="1680" y2="549.5" stroke="#787b86" stroke-opacity="1" stroke-width="1" stroke-dasharray="5 4"/>
<clipPath id="cob"><rect x="15" y="468" width="1665" height="32.5"/></clipPath>
<path d="M9.5,531.8 L15.5,529.6 L22.5,534.6 L28.5,536.5 L34.5,529.7 L40.5,526.3 L47.5,526.3 L53.5,533.2 L59.5,533.2 L65.5,529.1 L71.5,531.2 L77.5,531.2 L83.5,532.1 L89.5,530.1 L95.5,524.9 L101.5,516.5 L107.5,514.8 L113.5,516.1 L119.5,513.1 L125.5,530.9 L131.5,533.0 L137.5,537.7 L143.5,535.3 L149.5,533.9 L155.5,534.0 L162.5,540.7 L168.5,534.8 L174.5,522.2 L180.5,528.8 L186.5,521.2 L192.5,528.4 L198.5,532.3 L204.5,528.9 L210.5,526.6 L216.5,530.6 L222.5,525.6 L228.5,527.0 L234.5,526.5 L240.5,530.8 L246.5,533.1 L252.5,537.8 L258.5,535.3 L264.5,527.7 L270.5,524.7 L276.5,533.5 L282.5,542.6 L288.5,541.3 L294.5,546.0 L301.5,543.1 L307.5,546.2 L313.5,548.2 L319.5,547.5 L325.5,547.2 L331.5,545.3 L337.5,547.5 L343.5,537.4 L349.5,539.9 L355.5,536.7 L361.5,538.1 L367.5,539.8 L373.5,533.5 L379.5,536.8 L385.5,534.1 L391.5,532.6 L397.5,536.4 L403.5,528.9 L409.5,525.0 L415.5,540.9 L421.5,541.7 L427.5,547.5 L433.5,548.4 L439.5,550.6 L446.5,551.3 L452.5,531.2 L458.5,543.9 L464.5,542.9 L470.5,539.3 L476.5,540.6 L482.5,542.6 L488.5,538.3 L494.5,544.6 L500.5,549.1 L506.5,545.4 L512.5,546.0 L518.5,547.1 L524.5,544.2 L530.5,542.6 L536.5,544.5 L542.5,541.5 L548.5,541.5 L554.5,532.3 L560.5,535.8 L566.5,536.9 L572.5,534.9 L578.5,533.4 L585.5,527.6 L591.5,528.6 L597.5,532.4 L603.5,532.1 L609.5,539.6 L615.5,543.2 L621.5,543.7 L627.5,544.0 L633.5,534.4 L639.5,540.9 L645.5,538.8 L651.5,538.8 L657.5,539.3 L663.5,551.2 L669.5,552.3 L675.5,555.1 L681.5,537.9 L687.5,544.4 L693.5,541.4 L699.5,535.4 L705.5,537.9 L711.5,535.8 L717.5,537.3 L724.5,538.5 L730.5,537.2 L736.5,536.5 L742.5,534.6 L748.5,536.8 L754.5,536.8 L760.5,520.9 L766.5,517.8 L772.5,521.1 L778.5,518.9 L784.5,516.8 L790.5,519.6 L796.5,518.8 L802.5,518.8 L808.5,518.8 L814.5,514.7 L820.5,515.0 L826.5,515.5 L832.5,519.3 L838.5,518.7 L844.5,518.2 L850.5,518.2 L856.5,490.3 L863.5,486.2 L869.5,481.0 L875.5,487.6 L881.5,489.9 L887.5,485.5 L893.5,491.7 L899.5,497.1 L905.5,497.1 L911.5,504.0 L917.5,503.0 L923.5,501.5 L929.5,501.5 L935.5,500.8 L941.5,495.5 L947.5,508.5 L953.5,508.8 L959.5,507.7 L965.5,507.9 L971.5,502.0 L977.5,501.0 L983.5,506.4 L989.5,516.0 L995.5,515.6 L1001.5,515.8 L1008.5,510.5 L1014.5,512.5 L1020.5,511.4 L1026.5,529.1 L1032.5,524.4 L1038.5,520.5 L1044.5,520.8 L1050.5,510.3 L1056.5,503.5 L1062.5,507.3 L1068.5,517.8 L1074.5,522.2 L1080.5,525.6 L1086.5,524.0 L1092.5,524.0 L1098.5,526.7 L1104.5,526.2 L1110.5,526.2 L1116.5,535.3 L1122.5,541.7 L1128.5,545.4 L1134.5,529.5 L1140.5,527.1 L1147.5,528.7 L1153.5,528.5 L1159.5,528.5 L1165.5,527.9 L1171.5,522.3 L1177.5,523.8 L1183.5,530.4 L1189.5,517.5 L1195.5,516.1 L1201.5,522.4 L1207.5,522.1 L1213.5,518.3 L1219.5,521.2 L1225.5,515.2 L1231.5,506.4 L1237.5,498.4 L1243.5,497.9 L1249.5,499.8 L1255.5,498.6 L1261.5,496.7 L1267.5,492.3 L1273.5,486.1 L1279.5,483.9 L1286.5,482.7 L1292.5,481.7 L1298.5,479.3 L1304.5,479.2 L1310.5,479.7 L1316.5,493.2 L1322.5,490.8 L1328.5,490.6 L1334.5,490.0 L1340.5,486.7 L1346.5,493.7 L1352.5,493.5 L1358.5,493.3 L1364.5,504.3 L1370.5,520.6 L1376.5,526.1 L1382.5,520.1 L1388.5,510.4 L1394.5,516.6 L1400.5,513.7 L1406.5,505.9 L1412.5,502.6 L1418.5,496.5 L1425.5,496.8 L1431.5,498.8 L1437.5,491.0 L1443.5,488.6 L1449.5,499.1 L1455.5,504.5 L1461.5,505.4 L1467.5,504.3 L1473.5,512.0 L1479.5,522.4 L1485.5,513.9 L1485.5,500.5 L9.5,500.5Z" fill="url(#gOB)" clip-path="url(#cob)"/>
<clipPath id="cos"><rect x="15" y="549.1" width="1665" height="15.9"/></clipPath>
<path d="M9.5,531.8 L15.5,529.6 L22.5,534.6 L28.5,536.5 L34.5,529.7 L40.5,526.3 L47.5,526.3 L53.5,533.2 L59.5,533.2 L65.5,529.1 L71.5,531.2 L77.5,531.2 L83.5,532.1 L89.5,530.1 L95.5,524.9 L101.5,516.5 L107.5,514.8 L113.5,516.1 L119.5,513.1 L125.5,530.9 L131.5,533.0 L137.5,537.7 L143.5,535.3 L149.5,533.9 L155.5,534.0 L162.5,540.7 L168.5,534.8 L174.5,522.2 L180.5,528.8 L186.5,521.2 L192.5,528.4 L198.5,532.3 L204.5,528.9 L210.5,526.6 L216.5,530.6 L222.5,525.6 L228.5,527.0 L234.5,526.5 L240.5,530.8 L246.5,533.1 L252.5,537.8 L258.5,535.3 L264.5,527.7 L270.5,524.7 L276.5,533.5 L282.5,542.6 L288.5,541.3 L294.5,546.0 L301.5,543.1 L307.5,546.2 L313.5,548.2 L319.5,547.5 L325.5,547.2 L331.5,545.3 L337.5,547.5 L343.5,537.4 L349.5,539.9 L355.5,536.7 L361.5,538.1 L367.5,539.8 L373.5,533.5 L379.5,536.8 L385.5,534.1 L391.5,532.6 L397.5,536.4 L403.5,528.9 L409.5,525.0 L415.5,540.9 L421.5,541.7 L427.5,547.5 L433.5,548.4 L439.5,550.6 L446.5,551.3 L452.5,531.2 L458.5,543.9 L464.5,542.9 L470.5,539.3 L476.5,540.6 L482.5,542.6 L488.5,538.3 L494.5,544.6 L500.5,549.1 L506.5,545.4 L512.5,546.0 L518.5,547.1 L524.5,544.2 L530.5,542.6 L536.5,544.5 L542.5,541.5 L548.5,541.5 L554.5,532.3 L560.5,535.8 L566.5,536.9 L572.5,534.9 L578.5,533.4 L585.5,527.6 L591.5,528.6 L597.5,532.4 L603.5,532.1 L609.5,539.6 L615.5,543.2 L621.5,543.7 L627.5,544.0 L633.5,534.4 L639.5,540.9 L645.5,538.8 L651.5,538.8 L657.5,539.3 L663.5,551.2 L669.5,552.3 L675.5,555.1 L681.5,537.9 L687.5,544.4 L693.5,541.4 L699.5,535.4 L705.5,537.9 L711.5,535.8 L717.5,537.3 L724.5,538.5 L730.5,537.2 L736.5,536.5 L742.5,534.6 L748.5,536.8 L754.5,536.8 L760.5,520.9 L766.5,517.8 L772.5,521.1 L778.5,518.9 L784.5,516.8 L790.5,519.6 L796.5,518.8 L802.5,518.8 L808.5,518.8 L814.5,514.7 L820.5,515.0 L826.5,515.5 L832.5,519.3 L838.5,518.7 L844.5,518.2 L850.5,518.2 L856.5,490.3 L863.5,486.2 L869.5,481.0 L875.5,487.6 L881.5,489.9 L887.5,485.5 L893.5,491.7 L899.5,497.1 L905.5,497.1 L911.5,504.0 L917.5,503.0 L923.5,501.5 L929.5,501.5 L935.5,500.8 L941.5,495.5 L947.5,508.5 L953.5,508.8 L959.5,507.7 L965.5,507.9 L971.5,502.0 L977.5,501.0 L983.5,506.4 L989.5,516.0 L995.5,515.6 L1001.5,515.8 L1008.5,510.5 L1014.5,512.5 L1020.5,511.4 L1026.5,529.1 L1032.5,524.4 L1038.5,520.5 L1044.5,520.8 L1050.5,510.3 L1056.5,503.5 L1062.5,507.3 L1068.5,517.8 L1074.5,522.2 L1080.5,525.6 L1086.5,524.0 L1092.5,524.0 L1098.5,526.7 L1104.5,526.2 L1110.5,526.2 L1116.5,535.3 L1122.5,541.7 L1128.5,545.4 L1134.5,529.5 L1140.5,527.1 L1147.5,528.7 L1153.5,528.5 L1159.5,528.5 L1165.5,527.9 L1171.5,522.3 L1177.5,523.8 L1183.5,530.4 L1189.5,517.5 L1195.5,516.1 L1201.5,522.4 L1207.5,522.1 L1213.5,518.3 L1219.5,521.2 L1225.5,515.2 L1231.5,506.4 L1237.5,498.4 L1243.5,497.9 L1249.5,499.8 L1255.5,498.6 L1261.5,496.7 L1267.5,492.3 L1273.5,486.1 L1279.5,483.9 L1286.5,482.7 L1292.5,481.7 L1298.5,479.3 L1304.5,479.2 L1310.5,479.7 L1316.5,493.2 L1322.5,490.8 L1328.5,490.6 L1334.5,490.0 L1340.5,486.7 L1346.5,493.7 L1352.5,493.5 L1358.5,493.3 L1364.5,504.3 L1370.5,520.6 L1376.5,526.1 L1382.5,520.1 L1388.5,510.4 L1394.5,516.6 L1400.5,513.7 L1406.5,505.9 L1412.5,502.6 L1418.5,496.5 L1425.5,496.8 L1431.5,498.8 L1437.5,491.0 L1443.5,488.6 L1449.5,499.1 L1455.5,504.5 L1461.5,505.4 L1467.5,504.3 L1473.5,512.0 L1479.5,522.4 L1485.5,513.9 L1485.5,549.1 L9.5,549.1Z" fill="url(#gOS)" clip-path="url(#cos)"/>
<path d="M9.5,509.9 L15.5,512.5 L22.5,515.5 L28.5,518.6 L34.5,519.9 L40.5,520.7 L47.5,521.9 L53.5,523.7 L59.5,525.6 L65.5,527.0 L71.5,528.8 L77.5,530.6 L83.5,532.0 L89.5,532.4 L95.5,531.7 L101.5,530.6 L107.5,529.1 L113.5,527.5 L119.5,526.2 L125.5,526.3 L131.5,526.7 L137.5,526.8 L143.5,526.9 L149.5,527.2 L155.5,527.4 L162.5,528.1 L168.5,528.3 L174.5,527.7 L180.5,528.0 L186.5,528.3 L192.5,529.3 L198.5,530.5 L204.5,531.6 L210.5,531.3 L216.5,531.1 L222.5,530.2 L228.5,529.7 L234.5,529.1 L240.5,528.9 L246.5,528.4 L252.5,528.6 L258.5,529.5 L264.5,529.4 L270.5,529.7 L276.5,530.0 L282.5,530.8 L288.5,531.7 L294.5,533.0 L301.5,533.9 L307.5,535.4 L313.5,536.9 L319.5,538.4 L325.5,539.6 L331.5,540.5 L337.5,541.1 L343.5,541.3 L349.5,542.2 L355.5,543.0 L361.5,543.4 L367.5,543.2 L373.5,542.6 L379.5,542.0 L385.5,541.3 L391.5,540.3 L397.5,539.5 L403.5,538.2 L409.5,536.6 L415.5,536.3 L421.5,535.8 L427.5,536.6 L433.5,537.2 L439.5,538.2 L446.5,539.1 L452.5,538.5 L458.5,539.2 L464.5,539.7 L470.5,540.0 L476.5,540.6 L482.5,541.0 L488.5,541.7 L494.5,543.1 L500.5,543.7 L506.5,544.0 L512.5,543.9 L518.5,543.8 L524.5,543.3 L530.5,542.7 L536.5,543.7 L542.5,543.5 L548.5,543.4 L554.5,542.9 L560.5,542.5 L566.5,542.1 L572.5,541.9 L578.5,541.1 L585.5,539.6 L591.5,538.4 L597.5,537.4 L603.5,536.3 L609.5,536.0 L615.5,536.0 L621.5,536.0 L627.5,536.1 L633.5,535.6 L639.5,536.2 L645.5,536.5 L651.5,536.6 L657.5,536.9 L663.5,538.2 L669.5,539.9 L675.5,541.8 L681.5,542.2 L687.5,543.1 L693.5,543.2 L699.5,542.7 L705.5,542.3 L711.5,541.7 L717.5,541.9 L724.5,541.7 L730.5,541.6 L736.5,541.4 L742.5,541.1 L748.5,540.1 L754.5,539.0 L760.5,536.5 L766.5,535.1 L772.5,533.4 L778.5,531.8 L784.5,530.5 L790.5,529.2 L796.5,528.0 L802.5,526.6 L808.5,525.2 L814.5,523.6 L820.5,522.1 L826.5,520.7 L832.5,519.5 L838.5,518.2 L844.5,518.0 L850.5,518.0 L856.5,515.8 L863.5,513.5 L869.5,510.9 L875.5,508.6 L881.5,506.6 L887.5,504.2 L893.5,502.3 L899.5,501.0 L905.5,499.7 L911.5,498.9 L917.5,497.7 L923.5,496.5 L929.5,495.3 L935.5,494.1 L941.5,494.5 L947.5,496.0 L953.5,498.0 L959.5,499.5 L965.5,500.8 L971.5,502.0 L977.5,502.6 L983.5,503.3 L989.5,504.6 L995.5,505.5 L1001.5,506.4 L1008.5,507.0 L1014.5,507.8 L1020.5,508.5 L1026.5,510.9 L1032.5,512.1 L1038.5,512.9 L1044.5,513.8 L1050.5,514.0 L1056.5,514.1 L1062.5,514.6 L1068.5,515.4 L1074.5,515.8 L1080.5,516.5 L1086.5,517.1 L1092.5,518.1 L1098.5,519.1 L1104.5,520.2 L1110.5,520.0 L1116.5,520.7 L1122.5,522.3 L1128.5,524.0 L1134.5,525.4 L1140.5,527.1 L1147.5,528.6 L1153.5,529.4 L1159.5,529.8 L1165.5,530.0 L1171.5,529.9 L1177.5,529.8 L1183.5,530.1 L1189.5,529.5 L1195.5,528.8 L1201.5,527.8 L1207.5,526.4 L1213.5,524.5 L1219.5,523.9 L1225.5,523.1 L1231.5,521.5 L1237.5,519.3 L1243.5,517.1 L1249.5,515.1 L1255.5,513.4 L1261.5,511.5 L1267.5,508.8 L1273.5,506.5 L1279.5,504.2 L1286.5,501.4 L1292.5,498.5 L1298.5,495.7 L1304.5,492.7 L1310.5,490.2 L1316.5,489.2 L1322.5,488.7 L1328.5,488.2 L1334.5,487.5 L1340.5,486.6 L1346.5,486.4 L1352.5,486.5 L1358.5,487.0 L1364.5,488.5 L1370.5,491.2 L1376.5,494.4 L1382.5,497.3 L1388.5,499.5 L1394.5,502.1 L1400.5,503.6 L1406.5,504.7 L1412.5,505.5 L1418.5,506.0 L1425.5,506.7 L1431.5,507.1 L1437.5,506.9 L1443.5,506.6 L1449.5,506.2 L1455.5,505.0 L1461.5,503.6 L1467.5,502.4 L1473.5,502.5 L1479.5,503.0 L1485.5,503.0" fill="none" stroke="#fdd835" stroke-width="1.5"/>
<path d="M9.5,531.8 L15.5,529.6 L22.5,534.6 L28.5,536.5 L34.5,529.7 L40.5,526.3 L47.5,526.3 L53.5,533.2 L59.5,533.2 L65.5,529.1 L71.5,531.2 L77.5,531.2 L83.5,532.1 L89.5,530.1 L95.5,524.9 L101.5,516.5 L107.5,514.8 L113.5,516.1 L119.5,513.1 L125.5,530.9 L131.5,533.0 L137.5,537.7 L143.5,535.3 L149.5,533.9 L155.5,534.0 L162.5,540.7 L168.5,534.8 L174.5,522.2 L180.5,528.8 L186.5,521.2 L192.5,528.4 L198.5,532.3 L204.5,528.9 L210.5,526.6 L216.5,530.6 L222.5,525.6 L228.5,527.0 L234.5,526.5 L240.5,530.8 L246.5,533.1 L252.5,537.8 L258.5,535.3 L264.5,527.7 L270.5,524.7 L276.5,533.5 L282.5,542.6 L288.5,541.3 L294.5,546.0 L301.5,543.1 L307.5,546.2 L313.5,548.2 L319.5,547.5 L325.5,547.2 L331.5,545.3 L337.5,547.5 L343.5,537.4 L349.5,539.9 L355.5,536.7 L361.5,538.1 L367.5,539.8 L373.5,533.5 L379.5,536.8 L385.5,534.1 L391.5,532.6 L397.5,536.4 L403.5,528.9 L409.5,525.0 L415.5,540.9 L421.5,541.7 L427.5,547.5 L433.5,548.4 L439.5,550.6 L446.5,551.3 L452.5,531.2 L458.5,543.9 L464.5,542.9 L470.5,539.3 L476.5,540.6 L482.5,542.6 L488.5,538.3 L494.5,544.6 L500.5,549.1 L506.5,545.4 L512.5,546.0 L518.5,547.1 L524.5,544.2 L530.5,542.6 L536.5,544.5 L542.5,541.5 L548.5,541.5 L554.5,532.3 L560.5,535.8 L566.5,536.9 L572.5,534.9 L578.5,533.4 L585.5,527.6 L591.5,528.6 L597.5,532.4 L603.5,532.1 L609.5,539.6 L615.5,543.2 L621.5,543.7 L627.5,544.0 L633.5,534.4 L639.5,540.9 L645.5,538.8 L651.5,538.8 L657.5,539.3 L663.5,551.2 L669.5,552.3 L675.5,555.1 L681.5,537.9 L687.5,544.4 L693.5,541.4 L699.5,535.4 L705.5,537.9 L711.5,535.8 L717.5,537.3 L724.5,538.5 L730.5,537.2 L736.5,536.5 L742.5,534.6 L748.5,536.8 L754.5,536.8 L760.5,520.9 L766.5,517.8 L772.5,521.1 L778.5,518.9 L784.5,516.8 L790.5,519.6 L796.5,518.8 L802.5,518.8 L808.5,518.8 L814.5,514.7 L820.5,515.0 L826.5,515.5 L832.5,519.3 L838.5,518.7 L844.5,518.2 L850.5,518.2 L856.5,490.3 L863.5,486.2 L869.5,481.0 L875.5,487.6 L881.5,489.9 L887.5,485.5 L893.5,491.7 L899.5,497.1 L905.5,497.1 L911.5,504.0 L917.5,503.0 L923.5,501.5 L929.5,501.5 L935.5,500.8 L941.5,495.5 L947.5,508.5 L953.5,508.8 L959.5,507.7 L965.5,507.9 L971.5,502.0 L977.5,501.0 L983.5,506.4 L989.5,516.0 L995.5,515.6 L1001.5,515.8 L1008.5,510.5 L1014.5,512.5 L1020.5,511.4 L1026.5,529.1 L1032.5,524.4 L1038.5,520.5 L1044.5,520.8 L1050.5,510.3 L1056.5,503.5 L1062.5,507.3 L1068.5,517.8 L1074.5,522.2 L1080.5,525.6 L1086.5,524.0 L1092.5,524.0 L1098.5,526.7 L1104.5,526.2 L1110.5,526.2 L1116.5,535.3 L1122.5,541.7 L1128.5,545.4 L1134.5,529.5 L1140.5,527.1 L1147.5,528.7 L1153.5,528.5 L1159.5,528.5 L1165.5,527.9 L1171.5,522.3 L1177.5,523.8 L1183.5,530.4 L1189.5,517.5 L1195.5,516.1 L1201.5,522.4 L1207.5,522.1 L1213.5,518.3 L1219.5,521.2 L1225.5,515.2 L1231.5,506.4 L1237.5,498.4 L1243.5,497.9 L1249.5,499.8 L1255.5,498.6 L1261.5,496.7 L1267.5,492.3 L1273.5,486.1 L1279.5,483.9 L1286.5,482.7 L1292.5,481.7 L1298.5,479.3 L1304.5,479.2 L1310.5,479.7 L1316.5,493.2 L1322.5,490.8 L1328.5,490.6 L1334.5,490.0 L1340.5,486.7 L1346.5,493.7 L1352.5,493.5 L1358.5,493.3 L1364.5,504.3 L1370.5,520.6 L1376.5,526.1 L1382.5,520.1 L1388.5,510.4 L1394.5,516.6 L1400.5,513.7 L1406.5,505.9 L1412.5,502.6 L1418.5,496.5 L1425.5,496.8 L1431.5,498.8 L1437.5,491.0 L1443.5,488.6 L1449.5,499.1 L1455.5,504.5 L1461.5,505.4 L1467.5,504.3 L1473.5,512.0 L1479.5,522.4 L1485.5,513.9" fill="none" stroke="#7e57c2" stroke-width="1.5" stroke-linejoin="round"/>
</g>
<text x="27.3" y="497.4" font-family="'DejaVu Sans Condensed','DejaVu Sans',sans-serif" font-size="16.9" fill="#131722" textLength="23" lengthAdjust="spacingAndGlyphs" stroke="#131722" stroke-width="0.3">RSI</text>
<g clip-path="url(#cs)">
<rect x="15" y="585.0" width="1665" height="37.0" fill="#2196f3" fill-opacity="0.1"/>
<line x1="15" y1="585.5" x2="1680" y2="585.5" stroke="#787b86" stroke-opacity="1" stroke-width="1" stroke-dasharray="5 4"/>
<line x1="15" y1="603.5" x2="1680" y2="603.5" stroke="#787b86" stroke-opacity="0.5" stroke-width="1" stroke-dasharray="5 4"/>
<line x1="15" y1="622.5" x2="1680" y2="622.5" stroke="#787b86" stroke-opacity="1" stroke-width="1" stroke-dasharray="5 4"/>
<path d="M9.5,610.9 L15.5,612.1 L22.5,620.6 L28.5,623.9 L34.5,615.2 L40.5,610.5 L47.5,610.6 L53.5,620.9 L59.5,620.9 L65.5,616.0 L71.5,619.0 L77.5,616.3 L83.5,610.6 L89.5,598.5 L95.5,586.7 L101.5,575.4 L107.5,576.1 L113.5,578.6 L119.5,580.2 L125.5,624.4 L131.5,620.4 L137.5,628.0 L143.5,624.0 L149.5,621.6 L155.5,621.8 L162.5,618.7 L168.5,612.2 L174.5,594.9 L180.5,605.5 L186.5,593.1 L192.5,605.5 L198.5,612.8 L204.5,606.3 L210.5,593.0 L216.5,602.5 L222.5,591.9 L228.5,595.1 L234.5,594.1 L240.5,603.1 L246.5,615.2 L252.5,628.5 L258.5,623.6 L264.5,607.8 L270.5,598.9 L276.5,621.9 L282.5,625.4 L288.5,598.7 L294.5,605.8 L301.5,603.5 L307.5,608.1 L313.5,611.3 L319.5,610.9 L325.5,610.7 L331.5,609.5 L337.5,612.3 L343.5,605.8 L349.5,608.5 L355.5,603.7 L361.5,600.7 L367.5,593.2 L373.5,598.6 L379.5,604.9 L385.5,597.8 L391.5,593.7 L397.5,607.1 L403.5,587.7 L409.5,576.6 L415.5,629.1 L421.5,614.4 L427.5,627.0 L433.5,627.0 L439.5,621.7 L446.5,623.2 L452.5,599.2 L458.5,628.8 L464.5,621.9 L470.5,617.1 L476.5,619.9 L482.5,624.3 L488.5,619.1 L494.5,632.7 L500.5,630.1 L506.5,621.8 L512.5,623.2 L518.5,625.9 L524.5,622.6 L530.5,620.8 L536.5,624.4 L542.5,616.2 L548.5,616.2 L554.5,602.2 L560.5,606.8 L566.5,608.5 L572.5,603.5 L578.5,595.6 L585.5,576.2 L591.5,580.2 L597.5,592.8 L603.5,595.6 L609.5,627.2 L615.5,631.0 L621.5,627.6 L627.5,628.5 L633.5,609.9 L639.5,630.8 L645.5,624.1 L651.5,624.1 L657.5,625.6 L663.5,630.4 L669.5,622.0 L675.5,628.4 L681.5,609.3 L687.5,623.3 L693.5,617.8 L699.5,608.6 L705.5,614.3 L711.5,611.2 L717.5,614.3 L724.5,612.4 L730.5,610.1 L736.5,608.2 L742.5,604.5 L748.5,597.5 L754.5,597.5 L760.5,576.6 L766.5,580.1 L772.5,587.9 L778.5,583.2 L784.5,577.4 L790.5,586.5 L796.5,584.8 L802.5,584.8 L808.5,585.4 L814.5,580.2 L820.5,580.8 L826.5,581.3 L832.5,586.3 L838.5,585.4 L844.5,598.0 L850.5,598.0 L856.5,574.9 L863.5,585.1 L869.5,574.4 L875.5,579.6 L881.5,582.5 L887.5,574.1 L893.5,580.4 L899.5,584.2 L905.5,584.2 L911.5,589.1 L917.5,587.5 L923.5,585.4 L929.5,585.8 L935.5,585.0 L941.5,580.0 L947.5,603.1 L953.5,604.9 L959.5,601.9 L965.5,602.2 L971.5,585.0 L977.5,582.0 L983.5,594.3 L989.5,608.0 L995.5,607.2 L1001.5,608.8 L1008.5,605.7 L1014.5,610.7 L1020.5,608.2 L1026.5,633.4 L1032.5,622.2 L1038.5,614.1 L1044.5,614.6 L1050.5,589.6 L1056.5,574.0 L1062.5,586.8 L1068.5,603.3 L1074.5,611.2 L1080.5,617.5 L1086.5,614.6 L1092.5,614.6 L1098.5,619.1 L1104.5,618.3 L1110.5,618.3 L1116.5,631.9 L1122.5,627.8 L1128.5,627.5 L1134.5,611.8 L1140.5,608.9 L1147.5,607.3 L1153.5,601.6 L1159.5,601.6 L1165.5,600.8 L1171.5,593.4 L1177.5,590.8 L1183.5,596.8 L1189.5,579.5 L1195.5,579.1 L1201.5,588.3 L1207.5,587.9 L1213.5,583.0 L1219.5,596.2 L1225.5,578.3 L1231.5,577.2 L1237.5,577.8 L1243.5,579.8 L1249.5,581.5 L1255.5,578.9 L1261.5,578.8 L1267.5,573.7 L1273.5,576.6 L1279.5,575.7 L1286.5,579.5 L1292.5,576.7 L1298.5,575.9 L1304.5,576.9 L1310.5,577.3 L1316.5,585.7 L1322.5,582.0 L1328.5,581.5 L1334.5,580.2 L1340.5,573.1 L1346.5,581.6 L1352.5,583.0 L1358.5,586.1 L1364.5,604.6 L1370.5,629.0 L1376.5,633.0 L1382.5,619.7 L1388.5,596.6 L1394.5,607.8 L1400.5,600.6 L1406.5,577.4 L1412.5,577.5 L1418.5,573.1 L1425.5,578.2 L1431.5,581.5 L1437.5,574.9 L1443.5,574.9 L1449.5,583.0 L1455.5,587.7 L1461.5,588.5 L1467.5,588.1 L1473.5,596.4 L1479.5,609.1 L1485.5,596.8" fill="none" stroke="#2962ff" stroke-width="1.5" stroke-linejoin="round"/>
<path d="M9.5,617.3 L15.5,622.2 L22.5,620.5 L28.5,618.9 L34.5,619.9 L40.5,616.6 L47.5,612.1 L53.5,614.0 L59.5,617.5 L65.5,619.3 L71.5,618.7 L77.5,617.1 L83.5,615.3 L89.5,608.4 L95.5,598.6 L101.5,586.9 L107.5,579.4 L113.5,576.7 L119.5,578.3 L125.5,594.4 L131.5,608.3 L137.5,624.2 L143.5,624.1 L149.5,624.5 L155.5,622.5 L162.5,620.7 L168.5,617.6 L174.5,608.6 L180.5,604.2 L186.5,597.8 L192.5,601.3 L198.5,603.8 L204.5,608.2 L210.5,604.0 L216.5,600.6 L222.5,595.8 L228.5,596.5 L234.5,593.7 L240.5,597.4 L246.5,604.1 L252.5,615.6 L258.5,622.5 L264.5,620.0 L270.5,610.1 L276.5,609.5 L282.5,615.4 L288.5,615.4 L294.5,610.0 L301.5,602.7 L307.5,605.8 L313.5,607.7 L319.5,610.1 L325.5,611.0 L331.5,610.4 L337.5,610.8 L343.5,609.2 L349.5,608.8 L355.5,606.0 L361.5,604.3 L367.5,599.2 L373.5,597.5 L379.5,598.9 L385.5,600.4 L391.5,598.8 L397.5,599.5 L403.5,596.2 L409.5,590.5 L415.5,597.8 L421.5,606.7 L427.5,623.5 L433.5,622.8 L439.5,625.2 L446.5,624.0 L452.5,614.7 L458.5,617.0 L464.5,616.6 L470.5,622.6 L476.5,619.6 L482.5,620.4 L488.5,621.1 L494.5,625.3 L500.5,627.3 L506.5,628.2 L512.5,625.0 L518.5,623.6 L524.5,623.9 L530.5,623.1 L536.5,622.6 L542.5,620.5 L548.5,618.9 L554.5,611.5 L560.5,608.4 L566.5,605.8 L572.5,606.3 L578.5,602.6 L585.5,591.8 L591.5,584.0 L597.5,583.1 L603.5,589.5 L609.5,605.2 L615.5,617.9 L621.5,628.6 L627.5,629.0 L633.5,622.0 L639.5,623.1 L645.5,621.6 L651.5,626.3 L657.5,624.6 L663.5,626.7 L669.5,626.0 L675.5,626.9 L681.5,619.9 L687.5,620.3 L693.5,616.8 L699.5,616.6 L705.5,613.6 L711.5,611.4 L717.5,613.3 L724.5,612.6 L730.5,612.2 L736.5,610.2 L742.5,607.6 L748.5,603.4 L754.5,599.8 L760.5,590.6 L766.5,584.8 L772.5,581.5 L778.5,583.7 L784.5,582.8 L790.5,582.4 L796.5,582.9 L802.5,585.4 L808.5,585.0 L814.5,583.5 L820.5,582.1 L826.5,580.8 L832.5,582.8 L838.5,584.3 L844.5,589.9 L850.5,593.8 L856.5,590.3 L863.5,586.0 L869.5,578.1 L875.5,579.7 L881.5,578.8 L887.5,578.7 L893.5,579.0 L899.5,579.6 L905.5,583.0 L911.5,585.9 L917.5,587.0 L923.5,587.3 L929.5,586.3 L935.5,585.4 L941.5,583.6 L947.5,589.4 L953.5,596.0 L959.5,603.3 L965.5,603.0 L971.5,596.4 L977.5,589.7 L983.5,587.1 L989.5,594.8 L995.5,603.2 L1001.5,608.0 L1008.5,607.2 L1014.5,608.4 L1020.5,608.2 L1026.5,617.4 L1032.5,621.2 L1038.5,623.2 L1044.5,617.0 L1050.5,606.1 L1056.5,592.7 L1062.5,583.5 L1068.5,588.1 L1074.5,600.5 L1080.5,610.7 L1086.5,614.5 L1092.5,615.6 L1098.5,616.1 L1104.5,617.3 L1110.5,618.6 L1116.5,622.8 L1122.5,626.0 L1128.5,629.1 L1134.5,622.4 L1140.5,616.1 L1147.5,609.4 L1153.5,606.0 L1159.5,603.5 L1165.5,601.4 L1171.5,598.6 L1177.5,595.0 L1183.5,593.7 L1189.5,589.0 L1195.5,585.2 L1201.5,582.3 L1207.5,585.1 L1213.5,586.4 L1219.5,589.0 L1225.5,585.8 L1231.5,583.9 L1237.5,577.8 L1243.5,578.3 L1249.5,579.7 L1255.5,580.1 L1261.5,579.8 L1267.5,577.1 L1273.5,576.3 L1279.5,575.3 L1286.5,577.3 L1292.5,577.3 L1298.5,577.4 L1304.5,576.5 L1310.5,576.7 L1316.5,580.0 L1322.5,581.7 L1328.5,583.1 L1334.5,581.2 L1340.5,578.3 L1346.5,578.3 L1352.5,579.3 L1358.5,583.6 L1364.5,591.2 L1370.5,606.5 L1376.5,622.2 L1382.5,627.2 L1388.5,616.4 L1394.5,608.0 L1400.5,601.7 L1406.5,595.3 L1412.5,585.2 L1418.5,576.0 L1425.5,576.2 L1431.5,577.6 L1437.5,578.2 L1443.5,577.1 L1449.5,577.6 L1455.5,581.9 L1461.5,586.4 L1467.5,588.1 L1473.5,591.0 L1479.5,597.9 L1485.5,600.8" fill="none" stroke="#ff6d00" stroke-width="1.5" stroke-linejoin="round"/>
</g>
<text x="27.3" y="594.6" font-family="'DejaVu Sans Condensed','DejaVu Sans',sans-serif" font-size="16.9" fill="#131722" textLength="43" lengthAdjust="spacingAndGlyphs" stroke="#131722" stroke-width="0.3">Stoch</text>
<text x="68.8" y="668.2" font-family="'DejaVu Sans Condensed','DejaVu Sans',sans-serif" font-size="17.6" fill="#131722" textLength="40.6" lengthAdjust="spacingAndGlyphs" stroke="#131722" stroke-width="0.8">2025</text>
<text x="262.2" y="668.2" font-family="'DejaVu Sans Condensed','DejaVu Sans',sans-serif" font-size="17.6" fill="#131722" textLength="28.3" lengthAdjust="spacingAndGlyphs" stroke="#131722" stroke-width="0.3">Feb</text>
<text x="430.8" y="668.2" font-family="'DejaVu Sans Condensed','DejaVu Sans',sans-serif" font-size="17.6" fill="#131722" textLength="29" lengthAdjust="spacingAndGlyphs" stroke="#131722" stroke-width="0.3">Mar</text>
<text x="619.3" y="668.2" font-family="'DejaVu Sans Condensed','DejaVu Sans',sans-serif" font-size="17.6" fill="#131722" textLength="27.5" lengthAdjust="spacingAndGlyphs" stroke="#131722" stroke-width="0.3">Apr</text>
<text x="798.4" y="668.2" font-family="'DejaVu Sans Condensed','DejaVu Sans',sans-serif" font-size="17.6" fill="#131722" textLength="30.8" lengthAdjust="spacingAndGlyphs" stroke="#131722" stroke-width="0.3">May</text>
<text x="987.9" y="668.2" font-family="'DejaVu Sans Condensed','DejaVu Sans',sans-serif" font-size="17.6" fill="#131722" textLength="27.5" lengthAdjust="spacingAndGlyphs" stroke="#131722" stroke-width="0.3">Jun</text>
<text x="1171.8" y="668.2" font-family="'DejaVu Sans Condensed','DejaVu Sans',sans-serif" font-size="17.6" fill="#131722" textLength="22.8" lengthAdjust="spacingAndGlyphs" stroke="#131722" stroke-width="0.3">Jul</text>
<text x="1355.7" y="668.2" font-family="'DejaVu Sans Condensed','DejaVu Sans',sans-serif" font-size="17.6" fill="#131722" textLength="29.3" lengthAdjust="spacingAndGlyphs" stroke="#131722" stroke-width="0.3">Aug</text>
<text x="1543.9" y="668.2" font-family="'DejaVu Sans Condensed','DejaVu Sans',sans-serif" font-size="17.6" fill="#131722" textLength="27.9" lengthAdjust="spacingAndGlyphs" stroke="#131722" stroke-width="0.3">Sep</text>
<g clip-path="url(#cax)">
<text x="1693" y="269.7" font-family="'DejaVu Sans Condensed','DejaVu Sans',sans-serif" font-size="17.4" fill="#131722" stroke="#131722" stroke-width="0.3">3,000.00</text>
<text x="1693" y="371.7" font-family="'DejaVu Sans Condensed','DejaVu Sans',sans-serif" font-size="17.4" fill="#131722" stroke="#131722" stroke-width="0.3">2,000.00</text>
<path d="M1680,91 H1768 Q1770,91 1770,93 V111.2 Q1770,113.2 1768,113.2 H1680Z" fill="#2a2a2a"/>
<text x="1692.8" y="108.0" font-family="'DejaVu Sans Condensed','DejaVu Sans',sans-serif" font-size="17.4" fill="#fff" textLength="69.9" lengthAdjust="spacingAndGlyphs" stroke="#fff" stroke-width="0.4">4,492.09</text>
<rect x="1680" y="113.2" width="90" height="46.9" fill="#d1d4dc"/>
<text x="1692.8" y="131.4" font-family="'DejaVu Sans Condensed','DejaVu Sans',sans-serif" font-size="17.4" fill="#000" textLength="67.8" lengthAdjust="spacingAndGlyphs" stroke="#000" stroke-width="0.3">4,342.21</text>
<text x="1692.8" y="151.9" font-family="'DejaVu Sans Condensed','DejaVu Sans',sans-serif" font-size="17.4" fill="#2a2e39" stroke="#2a2e39" stroke-width="0.3">37:35</text>
<path d="M1680,160.1 H1768 Q1770,160.1 1770,162.1 V183 Q1770,185 1768,185 H1680Z" fill="#2962ff"/>
<text x="1692.8" y="178.5" font-family="'DejaVu Sans Condensed','DejaVu Sans',sans-serif" font-size="17.4" fill="#fff" textLength="69.9" lengthAdjust="spacingAndGlyphs" stroke="#fff" stroke-width="0.4">4,249.21</text>
<path d="M1680,185 H1768 Q1770,185 1770,187 V209 Q1770,211 1768,211 H1680Z" fill="#000"/>
<text x="1692.8" y="203.9" font-family="'DejaVu Sans Condensed','DejaVu Sans',sans-serif" font-size="17.4" fill="#fff" textLength="69.9" lengthAdjust="spacingAndGlyphs" stroke="#fff" stroke-width="0.4">4,095.98</text>
<path d="M1680,211 H1768 Q1770,211 1770,213 V235.5 Q1770,237.5 1768,237.5 H1680Z" fill="#2a2a2a"/>
<text x="1692.8" y="230.2" font-family="'DejaVu Sans Condensed','DejaVu Sans',sans-serif" font-size="17.4" fill="#fff" textLength="69.9" lengthAdjust="spacingAndGlyphs" stroke="#fff" stroke-width="0.4">3,472.37</text>
<path d="M1680,266.3 H1768 Q1770,266.3 1770,268.3 V290.2 Q1770,292.2 1768,292.2 H1680Z" fill="#000"/>
<text x="1692.8" y="285.1" font-family="'DejaVu Sans Condensed','DejaVu Sans',sans-serif" font-size="17.4" fill="#fff" textLength="69.9" lengthAdjust="spacingAndGlyphs" stroke="#fff" stroke-width="0.4">2,852.02</text>
<path d="M1680,301.2 H1768 Q1770,301.2 1770,303.2 V325.1 Q1770,327.1 1768,327.1 H1680Z" fill="#2a2a2a"/>
<text x="1692.8" y="320.0" font-family="'DejaVu Sans Condensed','DejaVu Sans',sans-serif" font-size="17.4" fill="#fff" textLength="69.9" lengthAdjust="spacingAndGlyphs" stroke="#fff" stroke-width="0.4">2,510.88</text>
<path d="M1680,341.7 H1768 Q1770,341.7 1770,343.7 V366.6 Q1770,368.6 1768,368.6 H1680Z" fill="#000"/>
<text x="1692.8" y="361.0" font-family="'DejaVu Sans Condensed','DejaVu Sans',sans-serif" font-size="17.4" fill="#fff" textLength="69.9" lengthAdjust="spacingAndGlyphs" stroke="#fff" stroke-width="0.4">2,112.30</text>
<path d="M1680,378 H1768 Q1770,378 1770,380 V453.3 Q1770,455.3 1768,455.3 H1680Z" fill="#2a2a2a"/>
<text x="1692.8" y="396.8" font-family="'DejaVu Sans Condensed','DejaVu Sans',sans-serif" font-size="17.4" fill="#fff" textLength="69.9" lengthAdjust="spacingAndGlyphs" stroke="#fff" stroke-width="0.4">1,754.48</text>
<text x="1692.8" y="422.4" font-family="'DejaVu Sans Condensed','DejaVu Sans',sans-serif" font-size="17.4" fill="#fff" textLength="69.9" lengthAdjust="spacingAndGlyphs" stroke="#fff" stroke-width="0.4">1,688.39</text>
<text x="1692.8" y="448.2" font-family="'DejaVu Sans Condensed','DejaVu Sans',sans-serif" font-size="17.4" fill="#fff" textLength="69.9" lengthAdjust="spacingAndGlyphs" stroke="#fff" stroke-width="0.4">1,476.78</text>
<path d="M1680,455.6 H1768 Q1770,455.6 1770,457.6 V479.5 Q1770,481.5 1768,481.5 H1680Z" fill="#000"/>
<text x="1692.8" y="474.4" font-family="'DejaVu Sans Condensed','DejaVu Sans',sans-serif" font-size="17.4" fill="#fff" textLength="69.9" lengthAdjust="spacingAndGlyphs" stroke="#fff" stroke-width="0.4">1,016.90</text>
</g>
<rect x="1685" y="47.5" width="86" height="37" rx="5" fill="#fff" stroke="#e0e3eb" stroke-width="1"/>
<text x="1699" y="71.6" font-family="'DejaVu Sans Condensed','DejaVu Sans',sans-serif" font-size="17.2" fill="#131722" textLength="41.3" lengthAdjust="spacingAndGlyphs" stroke="#131722" stroke-width="0.3">USDT</text>
<text x="1693.5" y="543" font-family="'DejaVu Sans Condensed','DejaVu Sans',sans-serif" font-size="17.4" fill="#131722" stroke="#131722" stroke-width="0.3">40.00</text>
<text x="1693.5" y="579.2" font-family="'DejaVu Sans Condensed','DejaVu Sans',sans-serif" font-size="17.4" fill="#131722" stroke="#131722" stroke-width="0.3">100.00</text>
<text x="1693.5" y="648" font-family="'DejaVu Sans Condensed','DejaVu Sans',sans-serif" font-size="17.4" fill="#131722" stroke="#131722" stroke-width="0.3" clip-path="url(#cst)">0.00</text>
<path d="M1680,475.3 H1742 Q1745,475.3 1745,478.3 V499.1 Q1745,502.1 1742,502.1 H1680Z" fill="#fdd835"/>
<text x="1693.5" y="494.6" font-family="'DejaVu Sans Condensed','DejaVu Sans',sans-serif" font-size="17.4" fill="#000" stroke="#000" stroke-width="0.4">67.85</text>
<path d="M1680,502.1 H1742 Q1745,502.1 1745,505.1 V524.8 Q1745,527.8 1742,527.8 H1680Z" fill="#7e57c2"/>
<text x="1693.5" y="520.9" font-family="'DejaVu Sans Condensed','DejaVu Sans',sans-serif" font-size="17.4" fill="#fff" stroke="#fff" stroke-width="0.4">58.80</text>
<path d="M1680,584.2 H1742 Q1745,584.2 1745,587.2 V606.4 Q1745,609.4 1742,609.4 H1680Z" fill="#2962ff"/>
<text x="1693.5" y="602.7" font-family="'DejaVu Sans Condensed','DejaVu Sans',sans-serif" font-size="17.4" fill="#fff" stroke="#fff" stroke-width="0.4">60.91</text>
<path d="M1680,609.4 H1742 Q1745,609.4 1745,612.4 V633.2 Q1745,636.2 1742,636.2 H1680Z" fill="#ff6d00"/>
<text x="1693.5" y="628.7" font-family="'DejaVu Sans Condensed','DejaVu Sans',sans-serif" font-size="17.4" fill="#fff" stroke="#fff" stroke-width="0.4">54.82</text>
<g fill="#131313">
<path d="M18.1,715.1 H35.8 V737.4 H27.1 V723.6 H18.1Z"/>
<circle cx="43.4" cy="719.4" r="4.3"/>
<path d="M52.5,715.1 H62.7 L53.9,737.4 H43.8Z"/>
<text x="73.2" y="737.6" font-family="'Liberation Sans',sans-serif" font-weight="bold" font-size="31" textLength="181.6" lengthAdjust="spacingAndGlyphs">TradingView</text>
</g>
</svg></body></html>
